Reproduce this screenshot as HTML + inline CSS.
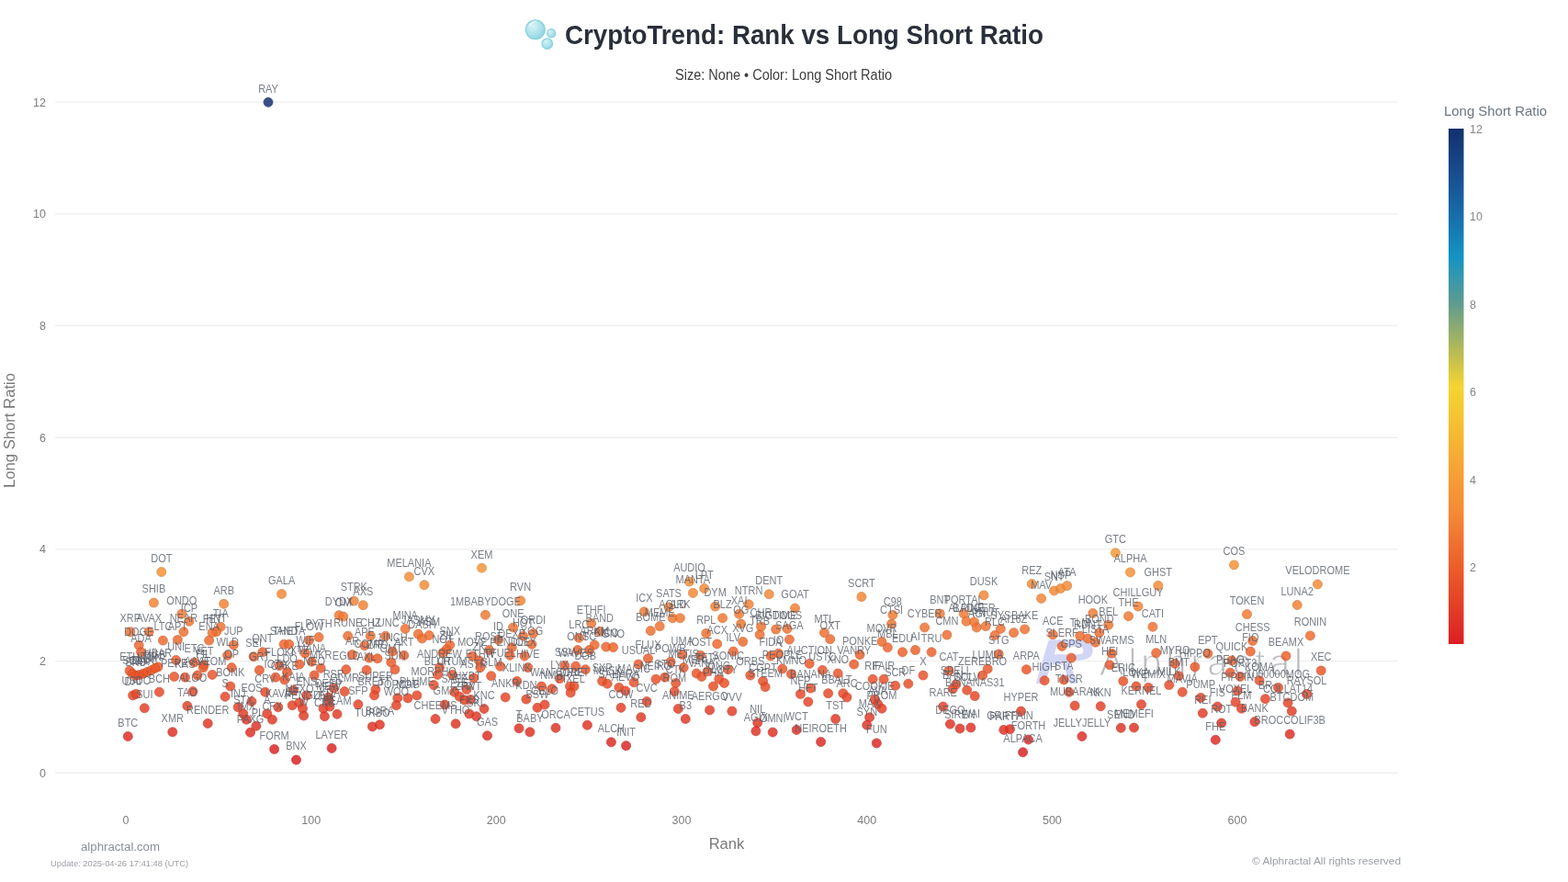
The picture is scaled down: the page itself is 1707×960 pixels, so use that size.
<!DOCTYPE html>
<html lang="en"><head><meta charset="utf-8"><title>CryptoTrend: Rank vs Long Short Ratio</title>
<style>
html,body{margin:0;padding:0;background:#fff;}
body{width:1707px;height:960px;overflow:hidden;font-family:"Liberation Sans",sans-serif;}
svg{display:block;}
text{font-family:"Liberation Sans",sans-serif;}
.grid line{stroke:#efefef;stroke-width:1.4;}
.tick{font-size:12.5px;fill:#7d7d7d;}
.axt{font-size:16.6px;fill:#7a7a7a;}
.lab{font-size:12.2px;fill:#565c68;fill-opacity:.8;text-anchor:middle;}
.pt{opacity:.84;stroke-width:.8;}
.ttl{font-size:29.3px;font-weight:700;fill:#2a2f3a;}
.sub{font-size:15.6px;fill:#3e3e3e;}
.cbt{font-size:14.5px;fill:#6a7686;}
.cbl{font-size:12.5px;fill:#858585;}
.foot1{font-size:12.5px;fill:#8a8f96;}
.foot2{font-size:9.5px;fill:#9a9ea4;}
.foot3{font-size:11px;fill:#9a9ea4;}
.wm{font-size:40px;fill:#b9bcc0;}
</style></head><body>
<svg width="1707" height="960" viewBox="0 0 1707 960">
<defs><linearGradient id="cb" x1="0" y1="1" x2="0" y2="0">
<stop offset="0.00%" stop-color="rgb(219, 30, 34)"/>
<stop offset="6.22%" stop-color="rgb(226, 58, 38)"/>
<stop offset="14.75%" stop-color="rgb(236, 92, 42)"/>
<stop offset="24.98%" stop-color="rgb(244, 136, 54)"/>
<stop offset="31.80%" stop-color="rgb(246, 156, 54)"/>
<stop offset="40.32%" stop-color="rgb(246, 184, 50)"/>
<stop offset="49.96%" stop-color="rgb(244, 213, 48)"/>
<stop offset="57.37%" stop-color="rgb(178, 184, 88)"/>
<stop offset="65.90%" stop-color="rgb(96, 156, 142)"/>
<stop offset="75.02%" stop-color="rgb(21, 147, 196)"/>
<stop offset="82.95%" stop-color="rgb(23, 110, 170)"/>
<stop offset="91.47%" stop-color="rgb(24, 76, 142)"/>
<stop offset="100.00%" stop-color="rgb(19, 48, 110)"/>
</linearGradient>
<radialGradient id="bub" cx="35%" cy="30%" r="75%"><stop offset="0" stop-color="#d8f3f7"/><stop offset="1" stop-color="#8fd6e2"/></radialGradient>
</defs>
<rect width="1707" height="960" fill="#fff"/>
<g class="grid">
<line x1="60" x2="1522" y1="841.3" y2="841.3"/>
<line x1="60" x2="1522" y1="719.6" y2="719.6"/>
<line x1="60" x2="1522" y1="597.9" y2="597.9"/>
<line x1="60" x2="1522" y1="476.2" y2="476.2"/>
<line x1="60" x2="1522" y1="354.5" y2="354.5"/>
<line x1="60" x2="1522" y1="232.8" y2="232.8"/>
<line x1="60" x2="1522" y1="111.1" y2="111.1"/>
</g>
<g class="tick" text-anchor="end">
<text x="50" y="845.8">0</text>
<text x="50" y="724.1">2</text>
<text x="50" y="602.4">4</text>
<text x="50" y="480.7">6</text>
<text x="50" y="359.0">8</text>
<text x="50" y="237.3">10</text>
<text x="50" y="115.6">12</text>
</g>
<g class="tick" text-anchor="middle">
<text x="137.0" y="897">0</text>
<text x="338.7" y="897">100</text>
<text x="540.3" y="897">200</text>
<text x="742.0" y="897">300</text>
<text x="943.7" y="897">400</text>
<text x="1145.4" y="897">500</text>
<text x="1347.0" y="897">600</text>
</g>
<text class="axt" text-anchor="middle" x="791" y="924">Rank</text>
<text class="axt" text-anchor="middle" transform="translate(16,468.5) rotate(-90)" textLength="125" lengthAdjust="spacingAndGlyphs">Long Short Ratio</text>
<g id="icon"><circle cx="582.8" cy="32.3" r="10.4" fill="url(#bub)" stroke="#86d0dc" stroke-width="1.3"/><circle cx="600.2" cy="36.2" r="4.6" fill="url(#bub)" stroke="#86d0dc" stroke-width="1.1"/><circle cx="595.8" cy="47.6" r="5.8" fill="url(#bub)" stroke="#86d0dc" stroke-width="1.1"/><path d="M576.5 28 q2.5 -4.5 7 -4.8" fill="none" stroke="#e9fafc" stroke-width="1.4" stroke-linecap="round"/></g>
<text class="ttl" x="615" y="47.6" textLength="521" lengthAdjust="spacingAndGlyphs">CryptoTrend: Rank vs Long Short Ratio</text>
<text class="sub" x="735" y="87" textLength="236" lengthAdjust="spacingAndGlyphs">Size: None • Color: Long Short Ratio</text>
<text class="cbt" x="1572" y="125.5" textLength="112" lengthAdjust="spacingAndGlyphs">Long Short Ratio</text>
<rect x="1577" y="140" width="16.5" height="561" fill="url(#cb)"/>
<g class="cbl">
<text x="1600" y="622.0">2</text>
<text x="1600" y="526.5">4</text>
<text x="1600" y="431.0">6</text>
<text x="1600" y="335.5">8</text>
<text x="1600" y="240.0">10</text>
<text x="1600" y="144.5">12</text>
</g>
<g id="wm"><path d="M1127.8 744 L1141 698.5 Q1141.6 696.2 1144 696.2 L1175.6 696.2 Q1189.7 697 1189.7 707.5 Q1189.7 718 1175.6 718.7 L1162.5 718.7 L1173.7 744 L1165.3 744 L1156.9 723.5 L1144.5 723.5 L1137.2 744 Z M1150.3 703.7 L1174.7 703.7 Q1179.4 704 1179.4 708 Q1179.4 712 1174.7 712.2 L1147.9 712.2 Z" fill="#cdd1f4" fill-opacity=".9" fill-rule="evenodd"/><text class="wm" x="1197" y="734.5" textLength="221" lengthAdjust="spacing" stroke="#fff" stroke-width="1.1">Alphractal</text></g>
<g id="pts">
<circle class="pt" cx="292.0" cy="111.3" r="5" fill="rgb(19, 48, 110)" stroke="rgb(16, 41, 95)"/>
<circle class="pt" cx="175.8" cy="622.5" r="5" fill="rgb(245, 146, 54)" stroke="rgb(211, 126, 46)"/>
<circle class="pt" cx="167.4" cy="656.1" r="5" fill="rgb(243, 130, 52)" stroke="rgb(209, 112, 45)"/>
<circle class="pt" cx="243.7" cy="657.3" r="5" fill="rgb(243, 130, 52)" stroke="rgb(209, 112, 45)"/>
<circle class="pt" cx="306.6" cy="646.5" r="5" fill="rgb(244, 136, 54)" stroke="rgb(210, 117, 46)"/>
<circle class="pt" cx="197.8" cy="668.3" r="5" fill="rgb(242, 123, 50)" stroke="rgb(208, 106, 43)"/>
<circle class="pt" cx="206.0" cy="676.3" r="5" fill="rgb(241, 118, 49)" stroke="rgb(207, 101, 42)"/>
<circle class="pt" cx="240.2" cy="682.3" r="5" fill="rgb(240, 114, 48)" stroke="rgb(206, 98, 41)"/>
<circle class="pt" cx="141.8" cy="687.7" r="5" fill="rgb(239, 111, 47)" stroke="rgb(206, 95, 40)"/>
<circle class="pt" cx="162.2" cy="687.7" r="5" fill="rgb(239, 111, 47)" stroke="rgb(206, 95, 40)"/>
<circle class="pt" cx="199.9" cy="687.7" r="5" fill="rgb(239, 111, 47)" stroke="rgb(206, 95, 40)"/>
<circle class="pt" cx="235.6" cy="687.7" r="5" fill="rgb(239, 111, 47)" stroke="rgb(206, 95, 40)"/>
<circle class="pt" cx="231.1" cy="688.7" r="5" fill="rgb(239, 111, 47)" stroke="rgb(206, 95, 40)"/>
<circle class="pt" cx="227.6" cy="697.1" r="5" fill="rgb(238, 106, 46)" stroke="rgb(205, 91, 40)"/>
<circle class="pt" cx="177.4" cy="697.1" r="5" fill="rgb(238, 106, 46)" stroke="rgb(205, 91, 40)"/>
<circle class="pt" cx="193.4" cy="696.4" r="5" fill="rgb(239, 106, 46)" stroke="rgb(206, 91, 40)"/>
<circle class="pt" cx="151.2" cy="702.3" r="5" fill="rgb(238, 102, 45)" stroke="rgb(205, 88, 39)"/>
<circle class="pt" cx="254.3" cy="702.0" r="5" fill="rgb(238, 103, 45)" stroke="rgb(205, 89, 39)"/>
<circle class="pt" cx="309.1" cy="701.3" r="5" fill="rgb(238, 103, 45)" stroke="rgb(205, 89, 39)"/>
<circle class="pt" cx="314.7" cy="701.3" r="5" fill="rgb(238, 103, 45)" stroke="rgb(205, 89, 39)"/>
<circle class="pt" cx="347.1" cy="693.6" r="5" fill="rgb(239, 108, 46)" stroke="rgb(206, 93, 40)"/>
<circle class="pt" cx="336.5" cy="697.1" r="5" fill="rgb(238, 106, 46)" stroke="rgb(205, 91, 40)"/>
<circle class="pt" cx="153.5" cy="709.8" r="5" fill="rgb(237, 98, 44)" stroke="rgb(204, 84, 38)"/>
<circle class="pt" cx="247.7" cy="713.3" r="5" fill="rgb(237, 96, 43)" stroke="rgb(204, 83, 37)"/>
<circle class="pt" cx="285.9" cy="709.8" r="5" fill="rgb(237, 98, 44)" stroke="rgb(204, 84, 38)"/>
<circle class="pt" cx="276.1" cy="714.7" r="5" fill="rgb(237, 95, 43)" stroke="rgb(204, 82, 37)"/>
<circle class="pt" cx="332.3" cy="711.2" r="5" fill="rgb(237, 97, 43)" stroke="rgb(204, 83, 37)"/>
<circle class="pt" cx="191.7" cy="718.5" r="5" fill="rgb(236, 93, 42)" stroke="rgb(203, 80, 36)"/>
<circle class="pt" cx="211.4" cy="721.0" r="5" fill="rgb(236, 91, 42)" stroke="rgb(203, 78, 36)"/>
<circle class="pt" cx="221.9" cy="723.8" r="5" fill="rgb(235, 90, 42)" stroke="rgb(202, 77, 36)"/>
<circle class="pt" cx="172.0" cy="725.9" r="5" fill="rgb(235, 88, 42)" stroke="rgb(202, 76, 36)"/>
<circle class="pt" cx="252.2" cy="726.6" r="5" fill="rgb(235, 88, 42)" stroke="rgb(202, 76, 36)"/>
<circle class="pt" cx="141.1" cy="730.1" r="5" fill="rgb(234, 86, 41)" stroke="rgb(201, 74, 35)"/>
<circle class="pt" cx="144.2" cy="733.2" r="5" fill="rgb(234, 84, 41)" stroke="rgb(201, 72, 35)"/>
<circle class="pt" cx="147.8" cy="735.5" r="5" fill="rgb(233, 83, 41)" stroke="rgb(200, 71, 35)"/>
<circle class="pt" cx="151.6" cy="734.6" r="5" fill="rgb(234, 84, 41)" stroke="rgb(201, 72, 35)"/>
<circle class="pt" cx="155.9" cy="733.2" r="5" fill="rgb(234, 84, 41)" stroke="rgb(201, 72, 35)"/>
<circle class="pt" cx="160.1" cy="731.5" r="5" fill="rgb(234, 85, 41)" stroke="rgb(201, 73, 35)"/>
<circle class="pt" cx="164.7" cy="729.6" r="5" fill="rgb(234, 86, 41)" stroke="rgb(201, 74, 35)"/>
<circle class="pt" cx="168.9" cy="727.3" r="5" fill="rgb(235, 88, 41)" stroke="rgb(202, 76, 35)"/>
<circle class="pt" cx="282.4" cy="729.4" r="5" fill="rgb(234, 87, 41)" stroke="rgb(201, 75, 35)"/>
<circle class="pt" cx="304.2" cy="724.5" r="5" fill="rgb(235, 89, 42)" stroke="rgb(202, 77, 36)"/>
<circle class="pt" cx="312.6" cy="731.5" r="5" fill="rgb(234, 85, 41)" stroke="rgb(201, 73, 35)"/>
<circle class="pt" cx="339.3" cy="720.3" r="5" fill="rgb(236, 92, 42)" stroke="rgb(203, 79, 36)"/>
<circle class="pt" cx="300.0" cy="737.2" r="5" fill="rgb(233, 82, 41)" stroke="rgb(200, 71, 35)"/>
<circle class="pt" cx="326.0" cy="723.1" r="5" fill="rgb(235, 90, 42)" stroke="rgb(202, 77, 36)"/>
<circle class="pt" cx="349.2" cy="727.3" r="5" fill="rgb(235, 88, 41)" stroke="rgb(202, 76, 35)"/>
<circle class="pt" cx="342.1" cy="735.1" r="5" fill="rgb(233, 83, 41)" stroke="rgb(200, 71, 35)"/>
<circle class="pt" cx="189.6" cy="736.5" r="5" fill="rgb(233, 83, 41)" stroke="rgb(200, 71, 35)"/>
<circle class="pt" cx="201.5" cy="737.2" r="5" fill="rgb(233, 82, 41)" stroke="rgb(200, 71, 35)"/>
<circle class="pt" cx="214.9" cy="735.1" r="5" fill="rgb(233, 83, 41)" stroke="rgb(200, 71, 35)"/>
<circle class="pt" cx="231.1" cy="734.4" r="5" fill="rgb(234, 84, 41)" stroke="rgb(201, 72, 35)"/>
<circle class="pt" cx="221.2" cy="726.6" r="5" fill="rgb(235, 88, 42)" stroke="rgb(202, 76, 36)"/>
<circle class="pt" cx="309.8" cy="740.0" r="5" fill="rgb(233, 81, 41)" stroke="rgb(200, 70, 35)"/>
<circle class="pt" cx="250.8" cy="747.0" r="5" fill="rgb(231, 77, 40)" stroke="rgb(199, 66, 34)"/>
<circle class="pt" cx="173.4" cy="753.3" r="5" fill="rgb(230, 73, 40)" stroke="rgb(198, 63, 34)"/>
<circle class="pt" cx="144.6" cy="756.9" r="5" fill="rgb(230, 71, 40)" stroke="rgb(198, 61, 34)"/>
<circle class="pt" cx="148.1" cy="755.4" r="5" fill="rgb(230, 72, 40)" stroke="rgb(198, 62, 34)"/>
<circle class="pt" cx="210.0" cy="752.6" r="5" fill="rgb(231, 74, 40)" stroke="rgb(199, 64, 34)"/>
<circle class="pt" cx="288.7" cy="753.3" r="5" fill="rgb(230, 73, 40)" stroke="rgb(198, 63, 34)"/>
<circle class="pt" cx="319.6" cy="751.2" r="5" fill="rgb(231, 74, 40)" stroke="rgb(199, 64, 34)"/>
<circle class="pt" cx="333.7" cy="756.9" r="5" fill="rgb(230, 71, 40)" stroke="rgb(198, 61, 34)"/>
<circle class="pt" cx="245.1" cy="758.3" r="5" fill="rgb(230, 70, 39)" stroke="rgb(198, 60, 34)"/>
<circle class="pt" cx="139.3" cy="801.5" r="5" fill="rgb(223, 45, 36)" stroke="rgb(192, 39, 31)"/>
<circle class="pt" cx="187.8" cy="796.8" r="5" fill="rgb(223, 48, 37)" stroke="rgb(192, 41, 32)"/>
<circle class="pt" cx="157.3" cy="770.8" r="5" fill="rgb(228, 63, 39)" stroke="rgb(196, 54, 34)"/>
<circle class="pt" cx="203.9" cy="768.4" r="5" fill="rgb(228, 65, 39)" stroke="rgb(196, 56, 34)"/>
<circle class="pt" cx="226.2" cy="787.4" r="5" fill="rgb(225, 54, 37)" stroke="rgb(194, 46, 32)"/>
<circle class="pt" cx="298.6" cy="815.5" r="5" fill="rgb(220, 36, 35)" stroke="rgb(189, 31, 30)"/>
<circle class="pt" cx="322.5" cy="827.1" r="5" fill="rgb(219, 30, 34)" stroke="rgb(188, 26, 29)"/>
<circle class="pt" cx="272.5" cy="797.2" r="5" fill="rgb(223, 47, 36)" stroke="rgb(192, 40, 31)"/>
<circle class="pt" cx="278.9" cy="790.2" r="5" fill="rgb(224, 52, 37)" stroke="rgb(193, 45, 32)"/>
<circle class="pt" cx="268.3" cy="783.2" r="5" fill="rgb(226, 56, 38)" stroke="rgb(194, 48, 33)"/>
<circle class="pt" cx="264.8" cy="776.9" r="5" fill="rgb(227, 60, 38)" stroke="rgb(195, 52, 33)"/>
<circle class="pt" cx="259.2" cy="769.8" r="5" fill="rgb(228, 64, 39)" stroke="rgb(196, 55, 34)"/>
<circle class="pt" cx="274.0" cy="763.5" r="5" fill="rgb(229, 67, 39)" stroke="rgb(197, 58, 34)"/>
<circle class="pt" cx="296.4" cy="783.2" r="5" fill="rgb(226, 56, 38)" stroke="rgb(194, 48, 33)"/>
<circle class="pt" cx="290.8" cy="776.9" r="5" fill="rgb(227, 60, 38)" stroke="rgb(195, 52, 33)"/>
<circle class="pt" cx="302.8" cy="769.8" r="5" fill="rgb(228, 64, 39)" stroke="rgb(196, 55, 34)"/>
<circle class="pt" cx="318.2" cy="767.7" r="5" fill="rgb(228, 65, 39)" stroke="rgb(196, 56, 34)"/>
<circle class="pt" cx="326.0" cy="764.9" r="5" fill="rgb(229, 67, 39)" stroke="rgb(197, 58, 34)"/>
<circle class="pt" cx="329.5" cy="771.2" r="5" fill="rgb(228, 63, 39)" stroke="rgb(196, 54, 34)"/>
<circle class="pt" cx="330.6" cy="779.0" r="5" fill="rgb(226, 59, 38)" stroke="rgb(194, 51, 33)"/>
<circle class="pt" cx="524.5" cy="618.2" r="5" fill="rgb(245, 148, 54)" stroke="rgb(211, 127, 46)"/>
<circle class="pt" cx="445.4" cy="627.8" r="5" fill="rgb(245, 144, 54)" stroke="rgb(211, 124, 46)"/>
<circle class="pt" cx="461.9" cy="636.7" r="5" fill="rgb(244, 140, 54)" stroke="rgb(210, 120, 46)"/>
<circle class="pt" cx="385.3" cy="654.1" r="5" fill="rgb(243, 131, 53)" stroke="rgb(209, 113, 46)"/>
<circle class="pt" cx="395.3" cy="658.7" r="5" fill="rgb(243, 129, 52)" stroke="rgb(209, 111, 45)"/>
<circle class="pt" cx="566.6" cy="653.8" r="5" fill="rgb(243, 132, 53)" stroke="rgb(209, 114, 46)"/>
<circle class="pt" cx="369.1" cy="669.7" r="5" fill="rgb(241, 122, 50)" stroke="rgb(207, 105, 43)"/>
<circle class="pt" cx="373.7" cy="671.1" r="5" fill="rgb(241, 121, 50)" stroke="rgb(207, 104, 43)"/>
<circle class="pt" cx="528.4" cy="669.3" r="5" fill="rgb(242, 122, 50)" stroke="rgb(208, 105, 43)"/>
<circle class="pt" cx="441.2" cy="684.4" r="5" fill="rgb(240, 113, 48)" stroke="rgb(206, 97, 41)"/>
<circle class="pt" cx="558.6" cy="683.0" r="5" fill="rgb(240, 114, 48)" stroke="rgb(206, 98, 41)"/>
<circle class="pt" cx="378.7" cy="692.2" r="5" fill="rgb(239, 109, 47)" stroke="rgb(206, 94, 40)"/>
<circle class="pt" cx="403.3" cy="692.2" r="5" fill="rgb(239, 109, 47)" stroke="rgb(206, 94, 40)"/>
<circle class="pt" cx="419.7" cy="692.2" r="5" fill="rgb(239, 109, 47)" stroke="rgb(206, 94, 40)"/>
<circle class="pt" cx="455.3" cy="690.1" r="5" fill="rgb(239, 110, 47)" stroke="rgb(206, 95, 40)"/>
<circle class="pt" cx="467.2" cy="691.5" r="5" fill="rgb(239, 109, 47)" stroke="rgb(206, 94, 40)"/>
<circle class="pt" cx="459.5" cy="695.0" r="5" fill="rgb(239, 107, 46)" stroke="rgb(206, 92, 40)"/>
<circle class="pt" cx="396.9" cy="702.7" r="5" fill="rgb(238, 102, 45)" stroke="rgb(205, 88, 39)"/>
<circle class="pt" cx="489.7" cy="702.0" r="5" fill="rgb(238, 103, 45)" stroke="rgb(205, 89, 39)"/>
<circle class="pt" cx="486.2" cy="706.9" r="5" fill="rgb(237, 100, 44)" stroke="rgb(204, 86, 38)"/>
<circle class="pt" cx="482.0" cy="710.5" r="5" fill="rgb(237, 98, 44)" stroke="rgb(204, 84, 38)"/>
<circle class="pt" cx="542.5" cy="696.4" r="5" fill="rgb(239, 106, 46)" stroke="rgb(206, 91, 40)"/>
<circle class="pt" cx="569.5" cy="692.2" r="5" fill="rgb(239, 109, 47)" stroke="rgb(206, 94, 40)"/>
<circle class="pt" cx="557.2" cy="704.8" r="5" fill="rgb(238, 101, 44)" stroke="rgb(205, 87, 38)"/>
<circle class="pt" cx="532.6" cy="707.6" r="5" fill="rgb(237, 99, 44)" stroke="rgb(204, 85, 38)"/>
<circle class="pt" cx="383.6" cy="712.6" r="5" fill="rgb(237, 96, 43)" stroke="rgb(204, 83, 37)"/>
<circle class="pt" cx="401.9" cy="716.1" r="5" fill="rgb(236, 94, 43)" stroke="rgb(203, 81, 37)"/>
<circle class="pt" cx="411.0" cy="716.8" r="5" fill="rgb(236, 94, 42)" stroke="rgb(203, 81, 36)"/>
<circle class="pt" cx="427.2" cy="709.1" r="5" fill="rgb(237, 98, 44)" stroke="rgb(204, 84, 38)"/>
<circle class="pt" cx="439.8" cy="713.3" r="5" fill="rgb(237, 96, 43)" stroke="rgb(204, 83, 37)"/>
<circle class="pt" cx="425.8" cy="721.0" r="5" fill="rgb(236, 91, 42)" stroke="rgb(203, 78, 36)"/>
<circle class="pt" cx="430.0" cy="728.7" r="5" fill="rgb(234, 87, 41)" stroke="rgb(201, 75, 35)"/>
<circle class="pt" cx="376.8" cy="728.7" r="5" fill="rgb(234, 87, 41)" stroke="rgb(201, 75, 35)"/>
<circle class="pt" cx="399.1" cy="729.4" r="5" fill="rgb(234, 87, 41)" stroke="rgb(201, 75, 35)"/>
<circle class="pt" cx="514.3" cy="714.0" r="5" fill="rgb(237, 95, 43)" stroke="rgb(204, 82, 37)"/>
<circle class="pt" cx="521.4" cy="718.9" r="5" fill="rgb(236, 92, 42)" stroke="rgb(203, 79, 36)"/>
<circle class="pt" cx="522.8" cy="726.6" r="5" fill="rgb(235, 88, 42)" stroke="rgb(202, 76, 36)"/>
<circle class="pt" cx="555.1" cy="713.3" r="5" fill="rgb(237, 96, 43)" stroke="rgb(204, 83, 37)"/>
<circle class="pt" cx="544.6" cy="725.2" r="5" fill="rgb(235, 89, 42)" stroke="rgb(202, 77, 36)"/>
<circle class="pt" cx="478.5" cy="726.6" r="5" fill="rgb(235, 88, 42)" stroke="rgb(202, 76, 36)"/>
<circle class="pt" cx="476.4" cy="734.4" r="5" fill="rgb(234, 84, 41)" stroke="rgb(201, 72, 35)"/>
<circle class="pt" cx="492.5" cy="734.4" r="5" fill="rgb(234, 84, 41)" stroke="rgb(201, 72, 35)"/>
<circle class="pt" cx="515.7" cy="737.9" r="5" fill="rgb(233, 82, 41)" stroke="rgb(200, 71, 35)"/>
<circle class="pt" cx="534.7" cy="735.8" r="5" fill="rgb(233, 83, 41)" stroke="rgb(200, 71, 35)"/>
<circle class="pt" cx="562.8" cy="741.4" r="5" fill="rgb(232, 80, 41)" stroke="rgb(200, 69, 35)"/>
<circle class="pt" cx="472.2" cy="745.6" r="5" fill="rgb(232, 77, 40)" stroke="rgb(200, 66, 34)"/>
<circle class="pt" cx="508.0" cy="750.5" r="5" fill="rgb(231, 75, 40)" stroke="rgb(199, 64, 34)"/>
<circle class="pt" cx="494.7" cy="753.3" r="5" fill="rgb(230, 73, 40)" stroke="rgb(198, 63, 34)"/>
<circle class="pt" cx="500.3" cy="758.3" r="5" fill="rgb(230, 70, 39)" stroke="rgb(198, 60, 34)"/>
<circle class="pt" cx="408.9" cy="750.5" r="5" fill="rgb(231, 75, 40)" stroke="rgb(199, 64, 34)"/>
<circle class="pt" cx="407.5" cy="756.9" r="5" fill="rgb(230, 71, 40)" stroke="rgb(198, 61, 34)"/>
<circle class="pt" cx="363.2" cy="749.1" r="5" fill="rgb(231, 76, 40)" stroke="rgb(199, 65, 34)"/>
<circle class="pt" cx="375.1" cy="752.6" r="5" fill="rgb(231, 74, 40)" stroke="rgb(199, 64, 34)"/>
<circle class="pt" cx="453.9" cy="756.9" r="5" fill="rgb(230, 71, 40)" stroke="rgb(198, 61, 34)"/>
<circle class="pt" cx="444.0" cy="759.9" r="5" fill="rgb(229, 69, 39)" stroke="rgb(197, 59, 34)"/>
<circle class="pt" cx="432.8" cy="759.7" r="5" fill="rgb(229, 70, 39)" stroke="rgb(197, 60, 34)"/>
<circle class="pt" cx="550.2" cy="759.0" r="5" fill="rgb(230, 70, 39)" stroke="rgb(198, 60, 34)"/>
<circle class="pt" cx="357.6" cy="759.0" r="5" fill="rgb(230, 70, 39)" stroke="rgb(198, 60, 34)"/>
<circle class="pt" cx="361.1" cy="814.4" r="5" fill="rgb(221, 37, 35)" stroke="rgb(190, 32, 30)"/>
<circle class="pt" cx="389.9" cy="766.7" r="5" fill="rgb(228, 66, 39)" stroke="rgb(196, 57, 34)"/>
<circle class="pt" cx="352.0" cy="771.2" r="5" fill="rgb(228, 63, 39)" stroke="rgb(196, 54, 34)"/>
<circle class="pt" cx="353.4" cy="779.7" r="5" fill="rgb(226, 58, 38)" stroke="rgb(194, 50, 33)"/>
<circle class="pt" cx="367.0" cy="777.3" r="5" fill="rgb(227, 60, 38)" stroke="rgb(195, 52, 33)"/>
<circle class="pt" cx="359.0" cy="769.1" r="5" fill="rgb(228, 64, 39)" stroke="rgb(196, 55, 34)"/>
<circle class="pt" cx="357.6" cy="762.1" r="5" fill="rgb(229, 68, 39)" stroke="rgb(197, 58, 34)"/>
<circle class="pt" cx="405.4" cy="790.9" r="5" fill="rgb(224, 51, 37)" stroke="rgb(193, 44, 32)"/>
<circle class="pt" cx="413.4" cy="788.8" r="5" fill="rgb(225, 53, 37)" stroke="rgb(194, 46, 32)"/>
<circle class="pt" cx="431.4" cy="767.7" r="5" fill="rgb(228, 65, 39)" stroke="rgb(196, 56, 34)"/>
<circle class="pt" cx="474.0" cy="782.5" r="5" fill="rgb(226, 57, 38)" stroke="rgb(194, 49, 33)"/>
<circle class="pt" cx="496.1" cy="787.8" r="5" fill="rgb(225, 53, 37)" stroke="rgb(194, 46, 32)"/>
<circle class="pt" cx="484.1" cy="767.0" r="5" fill="rgb(228, 66, 39)" stroke="rgb(196, 57, 34)"/>
<circle class="pt" cx="510.8" cy="776.9" r="5" fill="rgb(227, 60, 38)" stroke="rgb(195, 52, 33)"/>
<circle class="pt" cx="518.6" cy="779.7" r="5" fill="rgb(226, 58, 38)" stroke="rgb(194, 50, 33)"/>
<circle class="pt" cx="527.0" cy="771.5" r="5" fill="rgb(227, 63, 39)" stroke="rgb(195, 54, 34)"/>
<circle class="pt" cx="530.5" cy="800.8" r="5" fill="rgb(223, 45, 36)" stroke="rgb(192, 39, 31)"/>
<circle class="pt" cx="505.9" cy="762.1" r="5" fill="rgb(229, 68, 39)" stroke="rgb(197, 58, 34)"/>
<circle class="pt" cx="512.2" cy="761.4" r="5" fill="rgb(229, 69, 39)" stroke="rgb(197, 59, 34)"/>
<circle class="pt" cx="565.0" cy="792.8" r="5" fill="rgb(224, 50, 37)" stroke="rgb(193, 43, 32)"/>
<circle class="pt" cx="750.5" cy="633.1" r="5" fill="rgb(245, 142, 54)" stroke="rgb(211, 122, 46)"/>
<circle class="pt" cx="766.7" cy="640.5" r="5" fill="rgb(244, 139, 54)" stroke="rgb(210, 120, 46)"/>
<circle class="pt" cx="754.4" cy="645.4" r="5" fill="rgb(244, 136, 54)" stroke="rgb(210, 117, 46)"/>
<circle class="pt" cx="778.6" cy="660.1" r="5" fill="rgb(243, 128, 52)" stroke="rgb(209, 110, 45)"/>
<circle class="pt" cx="786.6" cy="672.8" r="5" fill="rgb(241, 120, 50)" stroke="rgb(207, 103, 43)"/>
<circle class="pt" cx="701.3" cy="665.8" r="5" fill="rgb(242, 124, 51)" stroke="rgb(208, 107, 44)"/>
<circle class="pt" cx="728.0" cy="660.8" r="5" fill="rgb(242, 127, 52)" stroke="rgb(208, 109, 45)"/>
<circle class="pt" cx="732.2" cy="672.8" r="5" fill="rgb(241, 120, 50)" stroke="rgb(207, 103, 43)"/>
<circle class="pt" cx="740.4" cy="672.8" r="5" fill="rgb(241, 120, 50)" stroke="rgb(207, 103, 43)"/>
<circle class="pt" cx="643.7" cy="678.4" r="5" fill="rgb(241, 117, 49)" stroke="rgb(207, 101, 42)"/>
<circle class="pt" cx="580.4" cy="689.4" r="5" fill="rgb(239, 110, 47)" stroke="rgb(206, 95, 40)"/>
<circle class="pt" cx="579.0" cy="701.3" r="5" fill="rgb(238, 103, 45)" stroke="rgb(205, 89, 39)"/>
<circle class="pt" cx="571.0" cy="714.0" r="5" fill="rgb(237, 95, 43)" stroke="rgb(204, 82, 37)"/>
<circle class="pt" cx="574.8" cy="726.6" r="5" fill="rgb(235, 88, 42)" stroke="rgb(202, 76, 36)"/>
<circle class="pt" cx="652.8" cy="687.3" r="5" fill="rgb(240, 111, 47)" stroke="rgb(206, 95, 40)"/>
<circle class="pt" cx="630.3" cy="694.3" r="5" fill="rgb(239, 107, 46)" stroke="rgb(206, 92, 40)"/>
<circle class="pt" cx="647.2" cy="702.0" r="5" fill="rgb(238, 103, 45)" stroke="rgb(205, 89, 39)"/>
<circle class="pt" cx="628.9" cy="707.6" r="5" fill="rgb(237, 99, 44)" stroke="rgb(204, 85, 38)"/>
<circle class="pt" cx="659.8" cy="704.1" r="5" fill="rgb(238, 101, 45)" stroke="rgb(205, 87, 39)"/>
<circle class="pt" cx="667.6" cy="704.6" r="5" fill="rgb(238, 101, 44)" stroke="rgb(205, 87, 38)"/>
<circle class="pt" cx="641.5" cy="707.6" r="5" fill="rgb(237, 99, 44)" stroke="rgb(204, 85, 38)"/>
<circle class="pt" cx="614.8" cy="724.5" r="5" fill="rgb(235, 89, 42)" stroke="rgb(202, 77, 36)"/>
<circle class="pt" cx="626.8" cy="725.2" r="5" fill="rgb(235, 89, 42)" stroke="rgb(202, 77, 36)"/>
<circle class="pt" cx="637.3" cy="728.7" r="5" fill="rgb(234, 87, 41)" stroke="rgb(201, 75, 35)"/>
<circle class="pt" cx="708.3" cy="686.6" r="5" fill="rgb(240, 112, 47)" stroke="rgb(206, 96, 40)"/>
<circle class="pt" cx="718.2" cy="681.6" r="5" fill="rgb(240, 115, 48)" stroke="rgb(206, 99, 41)"/>
<circle class="pt" cx="768.8" cy="689.4" r="5" fill="rgb(239, 110, 47)" stroke="rgb(206, 95, 40)"/>
<circle class="pt" cx="780.7" cy="700.9" r="5" fill="rgb(238, 103, 45)" stroke="rgb(205, 89, 39)"/>
<circle class="pt" cx="705.5" cy="716.8" r="5" fill="rgb(236, 94, 42)" stroke="rgb(203, 81, 36)"/>
<circle class="pt" cx="742.8" cy="712.6" r="5" fill="rgb(237, 96, 43)" stroke="rgb(204, 83, 37)"/>
<circle class="pt" cx="762.5" cy="713.3" r="5" fill="rgb(237, 96, 43)" stroke="rgb(204, 83, 37)"/>
<circle class="pt" cx="730.1" cy="720.3" r="5" fill="rgb(236, 92, 42)" stroke="rgb(203, 79, 36)"/>
<circle class="pt" cx="744.2" cy="726.6" r="5" fill="rgb(235, 88, 42)" stroke="rgb(202, 76, 36)"/>
<circle class="pt" cx="695.0" cy="723.1" r="5" fill="rgb(235, 90, 42)" stroke="rgb(202, 77, 36)"/>
<circle class="pt" cx="589.5" cy="747.0" r="5" fill="rgb(231, 77, 40)" stroke="rgb(199, 66, 34)"/>
<circle class="pt" cx="600.8" cy="749.8" r="5" fill="rgb(231, 75, 40)" stroke="rgb(199, 64, 34)"/>
<circle class="pt" cx="609.2" cy="738.6" r="5" fill="rgb(233, 81, 41)" stroke="rgb(200, 70, 35)"/>
<circle class="pt" cx="620.5" cy="747.0" r="5" fill="rgb(231, 77, 40)" stroke="rgb(199, 66, 34)"/>
<circle class="pt" cx="625.0" cy="747.0" r="5" fill="rgb(231, 77, 40)" stroke="rgb(199, 66, 34)"/>
<circle class="pt" cx="621.2" cy="754.0" r="5" fill="rgb(230, 73, 40)" stroke="rgb(198, 63, 34)"/>
<circle class="pt" cx="655.6" cy="741.4" r="5" fill="rgb(232, 80, 41)" stroke="rgb(200, 69, 35)"/>
<circle class="pt" cx="661.2" cy="744.2" r="5" fill="rgb(232, 78, 40)" stroke="rgb(200, 67, 34)"/>
<circle class="pt" cx="673.9" cy="748.4" r="5" fill="rgb(231, 76, 40)" stroke="rgb(199, 65, 34)"/>
<circle class="pt" cx="680.9" cy="751.9" r="5" fill="rgb(231, 74, 40)" stroke="rgb(199, 64, 34)"/>
<circle class="pt" cx="690.1" cy="742.8" r="5" fill="rgb(232, 79, 40)" stroke="rgb(200, 68, 34)"/>
<circle class="pt" cx="714.0" cy="739.3" r="5" fill="rgb(233, 81, 41)" stroke="rgb(200, 70, 35)"/>
<circle class="pt" cx="723.8" cy="737.2" r="5" fill="rgb(233, 82, 41)" stroke="rgb(200, 71, 35)"/>
<circle class="pt" cx="735.7" cy="743.5" r="5" fill="rgb(232, 79, 40)" stroke="rgb(200, 68, 34)"/>
<circle class="pt" cx="734.3" cy="752.6" r="5" fill="rgb(231, 74, 40)" stroke="rgb(199, 64, 34)"/>
<circle class="pt" cx="758.2" cy="733.0" r="5" fill="rgb(234, 85, 41)" stroke="rgb(201, 73, 35)"/>
<circle class="pt" cx="763.9" cy="736.5" r="5" fill="rgb(233, 83, 41)" stroke="rgb(200, 71, 35)"/>
<circle class="pt" cx="770.2" cy="730.8" r="5" fill="rgb(234, 86, 41)" stroke="rgb(201, 74, 35)"/>
<circle class="pt" cx="782.8" cy="739.3" r="5" fill="rgb(233, 81, 41)" stroke="rgb(200, 70, 35)"/>
<circle class="pt" cx="788.5" cy="743.5" r="5" fill="rgb(232, 79, 40)" stroke="rgb(200, 68, 34)"/>
<circle class="pt" cx="776.5" cy="747.0" r="5" fill="rgb(231, 77, 40)" stroke="rgb(199, 66, 34)"/>
<circle class="pt" cx="572.9" cy="761.1" r="5" fill="rgb(229, 69, 39)" stroke="rgb(197, 59, 34)"/>
<circle class="pt" cx="585.0" cy="770.3" r="5" fill="rgb(228, 64, 39)" stroke="rgb(196, 55, 34)"/>
<circle class="pt" cx="593.0" cy="767.0" r="5" fill="rgb(228, 66, 39)" stroke="rgb(196, 57, 34)"/>
<circle class="pt" cx="576.9" cy="796.8" r="5" fill="rgb(223, 48, 37)" stroke="rgb(192, 41, 32)"/>
<circle class="pt" cx="605.0" cy="792.3" r="5" fill="rgb(224, 51, 37)" stroke="rgb(193, 44, 32)"/>
<circle class="pt" cx="639.4" cy="789.2" r="5" fill="rgb(225, 52, 37)" stroke="rgb(194, 45, 32)"/>
<circle class="pt" cx="665.4" cy="807.8" r="5" fill="rgb(222, 41, 36)" stroke="rgb(191, 35, 31)"/>
<circle class="pt" cx="681.6" cy="811.7" r="5" fill="rgb(221, 38, 35)" stroke="rgb(190, 33, 30)"/>
<circle class="pt" cx="676.0" cy="770.3" r="5" fill="rgb(228, 64, 39)" stroke="rgb(196, 55, 34)"/>
<circle class="pt" cx="697.8" cy="780.7" r="5" fill="rgb(226, 58, 38)" stroke="rgb(194, 50, 33)"/>
<circle class="pt" cx="704.1" cy="763.5" r="5" fill="rgb(229, 67, 39)" stroke="rgb(197, 58, 34)"/>
<circle class="pt" cx="746.3" cy="782.5" r="5" fill="rgb(226, 57, 38)" stroke="rgb(194, 49, 33)"/>
<circle class="pt" cx="738.3" cy="771.5" r="5" fill="rgb(227, 63, 39)" stroke="rgb(195, 54, 34)"/>
<circle class="pt" cx="772.6" cy="772.9" r="5" fill="rgb(227, 62, 38)" stroke="rgb(195, 53, 33)"/>
<circle class="pt" cx="837.2" cy="646.8" r="5" fill="rgb(244, 136, 54)" stroke="rgb(210, 117, 46)"/>
<circle class="pt" cx="937.9" cy="649.6" r="5" fill="rgb(244, 134, 54)" stroke="rgb(210, 115, 46)"/>
<circle class="pt" cx="865.5" cy="662.0" r="5" fill="rgb(242, 127, 51)" stroke="rgb(208, 109, 44)"/>
<circle class="pt" cx="815.1" cy="657.8" r="5" fill="rgb(243, 129, 52)" stroke="rgb(209, 111, 45)"/>
<circle class="pt" cx="804.6" cy="668.3" r="5" fill="rgb(242, 123, 50)" stroke="rgb(208, 106, 43)"/>
<circle class="pt" cx="971.9" cy="669.3" r="5" fill="rgb(242, 122, 50)" stroke="rgb(208, 105, 43)"/>
<circle class="pt" cx="970.5" cy="679.1" r="5" fill="rgb(240, 116, 49)" stroke="rgb(206, 100, 42)"/>
<circle class="pt" cx="806.7" cy="679.1" r="5" fill="rgb(240, 116, 49)" stroke="rgb(206, 100, 42)"/>
<circle class="pt" cx="828.5" cy="682.1" r="5" fill="rgb(240, 115, 48)" stroke="rgb(206, 99, 41)"/>
<circle class="pt" cx="827.1" cy="690.8" r="5" fill="rgb(239, 109, 47)" stroke="rgb(206, 94, 40)"/>
<circle class="pt" cx="844.7" cy="685.1" r="5" fill="rgb(240, 113, 48)" stroke="rgb(206, 97, 41)"/>
<circle class="pt" cx="857.0" cy="684.4" r="5" fill="rgb(240, 113, 48)" stroke="rgb(206, 97, 41)"/>
<circle class="pt" cx="859.4" cy="696.1" r="5" fill="rgb(239, 106, 46)" stroke="rgb(206, 91, 40)"/>
<circle class="pt" cx="808.8" cy="698.5" r="5" fill="rgb(238, 105, 45)" stroke="rgb(205, 90, 39)"/>
<circle class="pt" cx="798.3" cy="709.1" r="5" fill="rgb(237, 98, 44)" stroke="rgb(204, 84, 38)"/>
<circle class="pt" cx="897.4" cy="688.7" r="5" fill="rgb(239, 111, 47)" stroke="rgb(206, 95, 40)"/>
<circle class="pt" cx="903.7" cy="695.7" r="5" fill="rgb(239, 106, 46)" stroke="rgb(206, 91, 40)"/>
<circle class="pt" cx="1006.6" cy="683.0" r="5" fill="rgb(240, 114, 48)" stroke="rgb(206, 98, 41)"/>
<circle class="pt" cx="960.0" cy="698.5" r="5" fill="rgb(238, 105, 45)" stroke="rgb(205, 90, 39)"/>
<circle class="pt" cx="966.3" cy="704.8" r="5" fill="rgb(238, 101, 44)" stroke="rgb(205, 87, 38)"/>
<circle class="pt" cx="982.5" cy="709.8" r="5" fill="rgb(237, 98, 44)" stroke="rgb(204, 84, 38)"/>
<circle class="pt" cx="996.5" cy="707.6" r="5" fill="rgb(237, 99, 44)" stroke="rgb(204, 85, 38)"/>
<circle class="pt" cx="936.1" cy="712.6" r="5" fill="rgb(237, 96, 43)" stroke="rgb(204, 83, 37)"/>
<circle class="pt" cx="929.7" cy="723.1" r="5" fill="rgb(235, 90, 42)" stroke="rgb(202, 77, 36)"/>
<circle class="pt" cx="881.2" cy="722.4" r="5" fill="rgb(236, 90, 42)" stroke="rgb(203, 77, 36)"/>
<circle class="pt" cx="839.1" cy="714.0" r="5" fill="rgb(237, 95, 43)" stroke="rgb(204, 82, 37)"/>
<circle class="pt" cx="847.5" cy="711.2" r="5" fill="rgb(237, 97, 43)" stroke="rgb(204, 83, 37)"/>
<circle class="pt" cx="851.7" cy="728.0" r="5" fill="rgb(235, 87, 41)" stroke="rgb(202, 75, 35)"/>
<circle class="pt" cx="861.5" cy="733.7" r="5" fill="rgb(234, 84, 41)" stroke="rgb(201, 72, 35)"/>
<circle class="pt" cx="895.3" cy="729.4" r="5" fill="rgb(234, 87, 41)" stroke="rgb(201, 75, 35)"/>
<circle class="pt" cx="912.2" cy="733.0" r="5" fill="rgb(234, 85, 41)" stroke="rgb(201, 73, 35)"/>
<circle class="pt" cx="816.8" cy="735.1" r="5" fill="rgb(233, 83, 41)" stroke="rgb(200, 71, 35)"/>
<circle class="pt" cx="830.6" cy="741.4" r="5" fill="rgb(232, 80, 41)" stroke="rgb(200, 69, 35)"/>
<circle class="pt" cx="833.1" cy="747.7" r="5" fill="rgb(231, 76, 40)" stroke="rgb(199, 65, 34)"/>
<circle class="pt" cx="792.7" cy="728.7" r="5" fill="rgb(234, 87, 41)" stroke="rgb(201, 75, 35)"/>
<circle class="pt" cx="950.1" cy="739.3" r="5" fill="rgb(233, 81, 41)" stroke="rgb(200, 70, 35)"/>
<circle class="pt" cx="962.1" cy="739.3" r="5" fill="rgb(233, 81, 41)" stroke="rgb(200, 70, 35)"/>
<circle class="pt" cx="974.7" cy="746.3" r="5" fill="rgb(232, 77, 40)" stroke="rgb(200, 66, 34)"/>
<circle class="pt" cx="988.8" cy="744.2" r="5" fill="rgb(232, 78, 40)" stroke="rgb(200, 67, 34)"/>
<circle class="pt" cx="1005.0" cy="735.1" r="5" fill="rgb(233, 83, 41)" stroke="rgb(200, 71, 35)"/>
<circle class="pt" cx="882.6" cy="749.1" r="5" fill="rgb(231, 76, 40)" stroke="rgb(199, 65, 34)"/>
<circle class="pt" cx="871.4" cy="755.4" r="5" fill="rgb(230, 72, 40)" stroke="rgb(198, 62, 34)"/>
<circle class="pt" cx="901.6" cy="754.7" r="5" fill="rgb(230, 72, 40)" stroke="rgb(198, 62, 34)"/>
<circle class="pt" cx="917.8" cy="754.7" r="5" fill="rgb(230, 72, 40)" stroke="rgb(198, 62, 34)"/>
<circle class="pt" cx="922.0" cy="759.0" r="5" fill="rgb(230, 70, 39)" stroke="rgb(198, 60, 34)"/>
<circle class="pt" cx="796.9" cy="774.1" r="5" fill="rgb(227, 62, 38)" stroke="rgb(195, 53, 33)"/>
<circle class="pt" cx="824.7" cy="786.7" r="5" fill="rgb(225, 54, 37)" stroke="rgb(194, 46, 32)"/>
<circle class="pt" cx="822.9" cy="795.8" r="5" fill="rgb(224, 48, 37)" stroke="rgb(193, 41, 32)"/>
<circle class="pt" cx="841.2" cy="797.0" r="5" fill="rgb(223, 48, 37)" stroke="rgb(192, 41, 32)"/>
<circle class="pt" cx="867.2" cy="794.4" r="5" fill="rgb(224, 49, 37)" stroke="rgb(193, 42, 32)"/>
<circle class="pt" cx="893.6" cy="807.5" r="5" fill="rgb(222, 41, 36)" stroke="rgb(191, 35, 31)"/>
<circle class="pt" cx="909.6" cy="782.5" r="5" fill="rgb(226, 57, 38)" stroke="rgb(194, 49, 33)"/>
<circle class="pt" cx="946.6" cy="780.8" r="5" fill="rgb(226, 58, 38)" stroke="rgb(194, 50, 33)"/>
<circle class="pt" cx="943.8" cy="789.2" r="5" fill="rgb(225, 52, 37)" stroke="rgb(194, 45, 32)"/>
<circle class="pt" cx="954.3" cy="808.9" r="5" fill="rgb(222, 40, 35)" stroke="rgb(191, 34, 30)"/>
<circle class="pt" cx="879.8" cy="763.9" r="5" fill="rgb(229, 67, 39)" stroke="rgb(197, 58, 34)"/>
<circle class="pt" cx="952.2" cy="761.4" r="5" fill="rgb(229, 69, 39)" stroke="rgb(197, 59, 34)"/>
<circle class="pt" cx="955.7" cy="766.3" r="5" fill="rgb(228, 66, 39)" stroke="rgb(196, 57, 34)"/>
<circle class="pt" cx="960.0" cy="771.2" r="5" fill="rgb(228, 63, 39)" stroke="rgb(196, 54, 34)"/>
<circle class="pt" cx="1214.4" cy="601.8" r="5" fill="rgb(246, 154, 54)" stroke="rgb(212, 132, 46)"/>
<circle class="pt" cx="1123.3" cy="635.5" r="5" fill="rgb(244, 141, 54)" stroke="rgb(210, 121, 46)"/>
<circle class="pt" cx="1133.6" cy="651.4" r="5" fill="rgb(243, 133, 53)" stroke="rgb(209, 114, 46)"/>
<circle class="pt" cx="1147.6" cy="643.0" r="5" fill="rgb(244, 137, 54)" stroke="rgb(210, 118, 46)"/>
<circle class="pt" cx="1154.7" cy="640.5" r="5" fill="rgb(244, 139, 54)" stroke="rgb(210, 120, 46)"/>
<circle class="pt" cx="1161.7" cy="637.6" r="5" fill="rgb(244, 140, 54)" stroke="rgb(210, 120, 46)"/>
<circle class="pt" cx="1071.0" cy="647.9" r="5" fill="rgb(244, 135, 54)" stroke="rgb(210, 116, 46)"/>
<circle class="pt" cx="1023.2" cy="667.9" r="5" fill="rgb(242, 123, 51)" stroke="rgb(208, 106, 44)"/>
<circle class="pt" cx="1049.2" cy="667.9" r="5" fill="rgb(242, 123, 51)" stroke="rgb(208, 106, 44)"/>
<circle class="pt" cx="1052.0" cy="676.3" r="5" fill="rgb(241, 118, 49)" stroke="rgb(207, 101, 42)"/>
<circle class="pt" cx="1060.5" cy="677.0" r="5" fill="rgb(241, 118, 49)" stroke="rgb(207, 101, 42)"/>
<circle class="pt" cx="1189.8" cy="667.5" r="5" fill="rgb(242, 123, 51)" stroke="rgb(208, 106, 44)"/>
<circle class="pt" cx="1228.5" cy="670.7" r="5" fill="rgb(241, 121, 50)" stroke="rgb(207, 104, 43)"/>
<circle class="pt" cx="1063.3" cy="683.0" r="5" fill="rgb(240, 114, 48)" stroke="rgb(206, 98, 41)"/>
<circle class="pt" cx="1073.1" cy="681.6" r="5" fill="rgb(240, 115, 48)" stroke="rgb(206, 99, 41)"/>
<circle class="pt" cx="1030.9" cy="691.1" r="5" fill="rgb(239, 109, 47)" stroke="rgb(206, 94, 40)"/>
<circle class="pt" cx="1014.1" cy="709.8" r="5" fill="rgb(237, 98, 44)" stroke="rgb(204, 84, 38)"/>
<circle class="pt" cx="1089.3" cy="684.4" r="5" fill="rgb(240, 113, 48)" stroke="rgb(206, 97, 41)"/>
<circle class="pt" cx="1083.0" cy="691.5" r="5" fill="rgb(239, 109, 47)" stroke="rgb(206, 94, 40)"/>
<circle class="pt" cx="1103.6" cy="688.7" r="5" fill="rgb(239, 111, 47)" stroke="rgb(206, 95, 40)"/>
<circle class="pt" cx="1115.6" cy="684.9" r="5" fill="rgb(240, 113, 48)" stroke="rgb(206, 97, 41)"/>
<circle class="pt" cx="1087.2" cy="711.9" r="5" fill="rgb(237, 97, 43)" stroke="rgb(204, 83, 37)"/>
<circle class="pt" cx="1146.2" cy="690.8" r="5" fill="rgb(239, 109, 47)" stroke="rgb(206, 94, 40)"/>
<circle class="pt" cx="1206.7" cy="680.2" r="5" fill="rgb(240, 116, 48)" stroke="rgb(206, 100, 41)"/>
<circle class="pt" cx="1175.7" cy="692.2" r="5" fill="rgb(239, 109, 47)" stroke="rgb(206, 94, 40)"/>
<circle class="pt" cx="1184.2" cy="695.0" r="5" fill="rgb(239, 107, 46)" stroke="rgb(206, 92, 40)"/>
<circle class="pt" cx="1192.6" cy="699.2" r="5" fill="rgb(238, 104, 45)" stroke="rgb(205, 89, 39)"/>
<circle class="pt" cx="1196.8" cy="688.7" r="5" fill="rgb(239, 111, 47)" stroke="rgb(206, 95, 40)"/>
<circle class="pt" cx="1156.1" cy="703.4" r="5" fill="rgb(238, 102, 45)" stroke="rgb(205, 88, 39)"/>
<circle class="pt" cx="1166.3" cy="716.1" r="5" fill="rgb(236, 94, 43)" stroke="rgb(203, 81, 37)"/>
<circle class="pt" cx="1210.2" cy="711.2" r="5" fill="rgb(237, 97, 43)" stroke="rgb(204, 83, 37)"/>
<circle class="pt" cx="1208.1" cy="723.8" r="5" fill="rgb(235, 90, 42)" stroke="rgb(202, 77, 36)"/>
<circle class="pt" cx="1117.4" cy="728.7" r="5" fill="rgb(234, 87, 41)" stroke="rgb(201, 75, 35)"/>
<circle class="pt" cx="1069.6" cy="735.1" r="5" fill="rgb(233, 83, 41)" stroke="rgb(200, 71, 35)"/>
<circle class="pt" cx="1075.2" cy="728.0" r="5" fill="rgb(235, 87, 41)" stroke="rgb(202, 75, 35)"/>
<circle class="pt" cx="1033.0" cy="730.1" r="5" fill="rgb(234, 86, 41)" stroke="rgb(201, 74, 35)"/>
<circle class="pt" cx="1137.1" cy="740.7" r="5" fill="rgb(233, 80, 41)" stroke="rgb(200, 69, 35)"/>
<circle class="pt" cx="1158.2" cy="740.0" r="5" fill="rgb(233, 81, 41)" stroke="rgb(200, 70, 35)"/>
<circle class="pt" cx="1163.8" cy="753.3" r="5" fill="rgb(230, 73, 40)" stroke="rgb(198, 63, 34)"/>
<circle class="pt" cx="1222.8" cy="741.4" r="5" fill="rgb(232, 80, 41)" stroke="rgb(200, 69, 35)"/>
<circle class="pt" cx="1040.8" cy="744.9" r="5" fill="rgb(232, 78, 40)" stroke="rgb(200, 67, 34)"/>
<circle class="pt" cx="1037.3" cy="749.8" r="5" fill="rgb(231, 75, 40)" stroke="rgb(199, 64, 34)"/>
<circle class="pt" cx="1061.2" cy="757.6" r="5" fill="rgb(230, 71, 40)" stroke="rgb(198, 61, 34)"/>
<circle class="pt" cx="1052.7" cy="751.2" r="5" fill="rgb(231, 74, 40)" stroke="rgb(199, 64, 34)"/>
<circle class="pt" cx="1026.7" cy="769.1" r="5" fill="rgb(228, 64, 39)" stroke="rgb(196, 55, 34)"/>
<circle class="pt" cx="1034.4" cy="788.1" r="5" fill="rgb(225, 53, 37)" stroke="rgb(194, 46, 32)"/>
<circle class="pt" cx="1045.0" cy="793.0" r="5" fill="rgb(224, 50, 37)" stroke="rgb(193, 43, 32)"/>
<circle class="pt" cx="1056.9" cy="792.0" r="5" fill="rgb(224, 51, 37)" stroke="rgb(193, 44, 32)"/>
<circle class="pt" cx="1111.5" cy="774.1" r="5" fill="rgb(227, 62, 38)" stroke="rgb(195, 53, 33)"/>
<circle class="pt" cx="1092.8" cy="794.4" r="5" fill="rgb(224, 49, 37)" stroke="rgb(193, 42, 32)"/>
<circle class="pt" cx="1099.5" cy="793.7" r="5" fill="rgb(224, 50, 37)" stroke="rgb(193, 43, 32)"/>
<circle class="pt" cx="1119.5" cy="805.0" r="5" fill="rgb(222, 43, 36)" stroke="rgb(191, 37, 31)"/>
<circle class="pt" cx="1113.6" cy="818.8" r="5" fill="rgb(220, 34, 35)" stroke="rgb(189, 29, 30)"/>
<circle class="pt" cx="1170.1" cy="768.1" r="5" fill="rgb(228, 65, 39)" stroke="rgb(196, 56, 34)"/>
<circle class="pt" cx="1198.2" cy="768.7" r="5" fill="rgb(228, 65, 39)" stroke="rgb(196, 56, 34)"/>
<circle class="pt" cx="1177.9" cy="801.5" r="5" fill="rgb(223, 45, 36)" stroke="rgb(192, 39, 31)"/>
<circle class="pt" cx="1220.3" cy="792.3" r="5" fill="rgb(224, 51, 37)" stroke="rgb(193, 44, 32)"/>
<circle class="pt" cx="1230.5" cy="622.9" r="5" fill="rgb(245, 146, 54)" stroke="rgb(211, 126, 46)"/>
<circle class="pt" cx="1260.8" cy="637.4" r="5" fill="rgb(244, 140, 54)" stroke="rgb(210, 120, 46)"/>
<circle class="pt" cx="1343.4" cy="614.9" r="5" fill="rgb(245, 149, 54)" stroke="rgb(211, 128, 46)"/>
<circle class="pt" cx="1434.4" cy="636.0" r="5" fill="rgb(244, 140, 54)" stroke="rgb(210, 120, 46)"/>
<circle class="pt" cx="1412.2" cy="658.5" r="5" fill="rgb(243, 129, 52)" stroke="rgb(209, 111, 45)"/>
<circle class="pt" cx="1357.5" cy="668.6" r="5" fill="rgb(242, 123, 50)" stroke="rgb(208, 106, 43)"/>
<circle class="pt" cx="1239.0" cy="660.1" r="5" fill="rgb(243, 128, 52)" stroke="rgb(209, 110, 45)"/>
<circle class="pt" cx="1254.9" cy="682.3" r="5" fill="rgb(240, 114, 48)" stroke="rgb(206, 98, 41)"/>
<circle class="pt" cx="1426.4" cy="691.9" r="5" fill="rgb(239, 109, 47)" stroke="rgb(206, 94, 40)"/>
<circle class="pt" cx="1363.7" cy="697.5" r="5" fill="rgb(238, 105, 46)" stroke="rgb(205, 90, 40)"/>
<circle class="pt" cx="1361.3" cy="709.1" r="5" fill="rgb(237, 98, 44)" stroke="rgb(204, 84, 38)"/>
<circle class="pt" cx="1258.7" cy="710.7" r="5" fill="rgb(237, 97, 43)" stroke="rgb(204, 83, 37)"/>
<circle class="pt" cx="1314.9" cy="711.4" r="5" fill="rgb(237, 97, 43)" stroke="rgb(204, 83, 37)"/>
<circle class="pt" cx="1340.9" cy="718.9" r="5" fill="rgb(236, 92, 42)" stroke="rgb(203, 79, 36)"/>
<circle class="pt" cx="1400.0" cy="714.0" r="5" fill="rgb(237, 95, 43)" stroke="rgb(204, 82, 37)"/>
<circle class="pt" cx="1438.2" cy="729.9" r="5" fill="rgb(234, 86, 41)" stroke="rgb(201, 74, 35)"/>
<circle class="pt" cx="1279.1" cy="722.4" r="5" fill="rgb(236, 90, 42)" stroke="rgb(203, 77, 36)"/>
<circle class="pt" cx="1300.8" cy="725.9" r="5" fill="rgb(235, 88, 42)" stroke="rgb(202, 76, 36)"/>
<circle class="pt" cx="1283.3" cy="735.8" r="5" fill="rgb(233, 83, 41)" stroke="rgb(200, 71, 35)"/>
<circle class="pt" cx="1339.2" cy="732.2" r="5" fill="rgb(234, 85, 41)" stroke="rgb(201, 73, 35)"/>
<circle class="pt" cx="1371.1" cy="740.7" r="5" fill="rgb(233, 80, 41)" stroke="rgb(200, 69, 35)"/>
<circle class="pt" cx="1350.1" cy="736.5" r="5" fill="rgb(233, 83, 41)" stroke="rgb(200, 71, 35)"/>
<circle class="pt" cx="1391.5" cy="748.4" r="5" fill="rgb(231, 76, 40)" stroke="rgb(199, 65, 34)"/>
<circle class="pt" cx="1422.5" cy="755.4" r="5" fill="rgb(230, 72, 40)" stroke="rgb(198, 62, 34)"/>
<circle class="pt" cx="1347.2" cy="751.9" r="5" fill="rgb(231, 74, 40)" stroke="rgb(199, 64, 34)"/>
<circle class="pt" cx="1307.2" cy="759.4" r="5" fill="rgb(229, 70, 39)" stroke="rgb(197, 60, 34)"/>
<circle class="pt" cx="1287.2" cy="753.3" r="5" fill="rgb(230, 73, 40)" stroke="rgb(198, 63, 34)"/>
<circle class="pt" cx="1272.7" cy="745.6" r="5" fill="rgb(232, 77, 40)" stroke="rgb(200, 66, 34)"/>
<circle class="pt" cx="1236.9" cy="747.0" r="5" fill="rgb(231, 77, 40)" stroke="rgb(199, 66, 34)"/>
<circle class="pt" cx="1250.2" cy="748.4" r="5" fill="rgb(231, 76, 40)" stroke="rgb(199, 65, 34)"/>
<circle class="pt" cx="1242.5" cy="766.7" r="5" fill="rgb(228, 66, 39)" stroke="rgb(196, 57, 34)"/>
<circle class="pt" cx="1234.5" cy="792.0" r="5" fill="rgb(224, 51, 37)" stroke="rgb(193, 44, 32)"/>
<circle class="pt" cx="1309.3" cy="776.2" r="5" fill="rgb(227, 60, 38)" stroke="rgb(195, 52, 33)"/>
<circle class="pt" cx="1325.4" cy="769.1" r="5" fill="rgb(228, 64, 39)" stroke="rgb(196, 55, 34)"/>
<circle class="pt" cx="1329.7" cy="787.0" r="5" fill="rgb(225, 54, 37)" stroke="rgb(194, 46, 32)"/>
<circle class="pt" cx="1323.3" cy="805.3" r="5" fill="rgb(222, 42, 36)" stroke="rgb(191, 36, 31)"/>
<circle class="pt" cx="1345.1" cy="764.2" r="5" fill="rgb(229, 67, 39)" stroke="rgb(197, 58, 34)"/>
<circle class="pt" cx="1351.5" cy="771.2" r="5" fill="rgb(228, 63, 39)" stroke="rgb(196, 54, 34)"/>
<circle class="pt" cx="1365.9" cy="785.6" r="5" fill="rgb(225, 55, 38)" stroke="rgb(194, 47, 33)"/>
<circle class="pt" cx="1377.5" cy="760.7" r="5" fill="rgb(229, 69, 39)" stroke="rgb(197, 59, 34)"/>
<circle class="pt" cx="1406.3" cy="774.1" r="5" fill="rgb(227, 62, 38)" stroke="rgb(195, 53, 33)"/>
<circle class="pt" cx="1402.1" cy="764.9" r="5" fill="rgb(229, 67, 39)" stroke="rgb(197, 58, 34)"/>
<circle class="pt" cx="1404.2" cy="799.1" r="5" fill="rgb(223, 46, 36)" stroke="rgb(192, 40, 31)"/>
</g>
<g id="labs">
<text class="lab" transform="translate(292.0,100.6) scale(.9,1)">RAY</text>
<text class="lab" transform="translate(175.8,611.8) scale(.9,1)">DOT</text>
<text class="lab" transform="translate(167.4,645.4) scale(.9,1)">SHIB</text>
<text class="lab" transform="translate(243.7,646.6) scale(.9,1)">ARB</text>
<text class="lab" transform="translate(306.6,635.8) scale(.9,1)">GALA</text>
<text class="lab" transform="translate(197.8,657.6) scale(.9,1)">ONDO</text>
<text class="lab" transform="translate(206.0,665.6) scale(.9,1)">ICP</text>
<text class="lab" transform="translate(240.2,671.6) scale(.9,1)">TIA</text>
<text class="lab" transform="translate(141.8,677.0) scale(.9,1)">XRP</text>
<text class="lab" transform="translate(162.2,677.0) scale(.9,1)">AVAX</text>
<text class="lab" transform="translate(199.9,677.0) scale(.9,1)">NEAR</text>
<text class="lab" transform="translate(235.6,677.0) scale(.9,1)">HNT</text>
<text class="lab" transform="translate(231.1,678.0) scale(.9,1)">FET</text>
<text class="lab" transform="translate(227.6,686.4) scale(.9,1)">ENA</text>
<text class="lab" transform="translate(177.4,686.4) scale(.9,1)">LTC</text>
<text class="lab" transform="translate(193.4,685.7) scale(.9,1)">APT</text>
<text class="lab" transform="translate(151.2,691.6) scale(.9,1)">DOGE</text>
<text class="lab" transform="translate(254.3,691.3) scale(.9,1)">JUP</text>
<text class="lab" transform="translate(309.1,690.6) scale(.9,1)">SAND</text>
<text class="lab" transform="translate(314.7,690.6) scale(.9,1)">THETA</text>
<text class="lab" transform="translate(347.1,682.9) scale(.9,1)">PYTH</text>
<text class="lab" transform="translate(336.5,686.4) scale(.9,1)">FLOW</text>
<text class="lab" transform="translate(153.5,699.1) scale(.9,1)">ADA</text>
<text class="lab" transform="translate(247.7,702.6) scale(.9,1)">WLD</text>
<text class="lab" transform="translate(285.9,699.1) scale(.9,1)">QNT</text>
<text class="lab" transform="translate(276.1,704.0) scale(.9,1)">SEI</text>
<text class="lab" transform="translate(332.3,700.5) scale(.9,1)">WIF</text>
<text class="lab" transform="translate(191.7,707.8) scale(.9,1)">UNI</text>
<text class="lab" transform="translate(211.4,710.3) scale(.9,1)">ETC</text>
<text class="lab" transform="translate(221.9,713.1) scale(.9,1)">VET</text>
<text class="lab" transform="translate(172.0,715.2) scale(.9,1)">HBAR</text>
<text class="lab" transform="translate(252.2,715.9) scale(.9,1)">OP</text>
<text class="lab" transform="translate(141.1,719.4) scale(.9,1)">ETH</text>
<text class="lab" transform="translate(144.2,722.5) scale(.9,1)">SOL</text>
<text class="lab" transform="translate(147.8,724.8) scale(.9,1)">BNB</text>
<text class="lab" transform="translate(151.6,723.9) scale(.9,1)">TRX</text>
<text class="lab" transform="translate(155.9,722.5) scale(.9,1)">LINK</text>
<text class="lab" transform="translate(160.1,720.8) scale(.9,1)">XLM</text>
<text class="lab" transform="translate(164.7,718.9) scale(.9,1)">TON</text>
<text class="lab" transform="translate(168.9,716.6) scale(.9,1)">BGB</text>
<text class="lab" transform="translate(282.4,718.7) scale(.9,1)">GRT</text>
<text class="lab" transform="translate(304.2,713.8) scale(.9,1)">FLOKI</text>
<text class="lab" transform="translate(312.6,720.8) scale(.9,1)">LDO</text>
<text class="lab" transform="translate(339.3,709.6) scale(.9,1)">MANA</text>
<text class="lab" transform="translate(300.0,726.5) scale(.9,1)">IOTA</text>
<text class="lab" transform="translate(326.0,712.4) scale(.9,1)">XTZ</text>
<text class="lab" transform="translate(349.2,716.6) scale(.9,1)">MKR</text>
<text class="lab" transform="translate(342.1,724.4) scale(.9,1)">NEO</text>
<text class="lab" transform="translate(189.6,725.8) scale(.9,1)">PEPE</text>
<text class="lab" transform="translate(201.5,726.5) scale(.9,1)">KAS</text>
<text class="lab" transform="translate(214.9,724.4) scale(.9,1)">AAVE</text>
<text class="lab" transform="translate(231.1,723.7) scale(.9,1)">ATOM</text>
<text class="lab" transform="translate(221.2,715.9) scale(.9,1)">FIL</text>
<text class="lab" transform="translate(309.8,729.3) scale(.9,1)">CAKE</text>
<text class="lab" transform="translate(250.8,736.3) scale(.9,1)">BONK</text>
<text class="lab" transform="translate(173.4,742.6) scale(.9,1)">BCH</text>
<text class="lab" transform="translate(144.6,746.2) scale(.9,1)">DAI</text>
<text class="lab" transform="translate(148.1,744.7) scale(.9,1)">USDC</text>
<text class="lab" transform="translate(210.0,741.9) scale(.9,1)">ALGO</text>
<text class="lab" transform="translate(288.7,742.6) scale(.9,1)">CRV</text>
<text class="lab" transform="translate(319.6,740.5) scale(.9,1)">KAIA</text>
<text class="lab" transform="translate(333.7,746.2) scale(.9,1)">ENS</text>
<text class="lab" transform="translate(245.1,747.6) scale(.9,1)">S</text>
<text class="lab" transform="translate(139.3,790.8) scale(.9,1)">BTC</text>
<text class="lab" transform="translate(187.8,786.1) scale(.9,1)">XMR</text>
<text class="lab" transform="translate(157.3,760.1) scale(.9,1)">SUI</text>
<text class="lab" transform="translate(203.9,757.7) scale(.9,1)">TAO</text>
<text class="lab" transform="translate(226.2,776.7) scale(.9,1)">RENDER</text>
<text class="lab" transform="translate(298.6,804.8) scale(.9,1)">FORM</text>
<text class="lab" transform="translate(322.5,816.4) scale(.9,1)">BNX</text>
<text class="lab" transform="translate(272.5,786.5) scale(.9,1)">PAXG</text>
<text class="lab" transform="translate(278.9,779.5) scale(.9,1)">PI</text>
<text class="lab" transform="translate(268.3,772.5) scale(.9,1)">IMX</text>
<text class="lab" transform="translate(264.8,766.2) scale(.9,1)">STX</text>
<text class="lab" transform="translate(259.2,759.1) scale(.9,1)">INJ</text>
<text class="lab" transform="translate(274.0,752.8) scale(.9,1)">EOS</text>
<text class="lab" transform="translate(296.4,772.5) scale(.9,1)">CFX</text>
<text class="lab" transform="translate(290.8,766.2) scale(.9,1)">A</text>
<text class="lab" transform="translate(302.8,759.1) scale(.9,1)">KAVA</text>
<text class="lab" transform="translate(318.2,757.0) scale(.9,1)">GT</text>
<text class="lab" transform="translate(326.0,754.2) scale(.9,1)">NEXO</text>
<text class="lab" transform="translate(329.5,760.5) scale(.9,1)">PENGU</text>
<text class="lab" transform="translate(330.6,768.3) scale(.9,1)">W</text>
<text class="lab" transform="translate(524.5,607.5) scale(.9,1)">XEM</text>
<text class="lab" transform="translate(445.4,617.1) scale(.9,1)">MELANIA</text>
<text class="lab" transform="translate(461.9,626.0) scale(.9,1)">CVX</text>
<text class="lab" transform="translate(385.3,643.4) scale(.9,1)">STRK</text>
<text class="lab" transform="translate(395.3,648.0) scale(.9,1)">AXS</text>
<text class="lab" transform="translate(566.6,643.1) scale(.9,1)">RVN</text>
<text class="lab" transform="translate(369.1,659.0) scale(.9,1)">DYDX</text>
<text class="lab" transform="translate(373.7,660.4) scale(.9,1)">OM</text>
<text class="lab" transform="translate(528.4,658.6) scale(.9,1)">1MBABYDOGE</text>
<text class="lab" transform="translate(441.2,673.7) scale(.9,1)">MINA</text>
<text class="lab" transform="translate(558.6,672.3) scale(.9,1)">ONE</text>
<text class="lab" transform="translate(378.7,681.5) scale(.9,1)">RUNE</text>
<text class="lab" transform="translate(403.3,681.5) scale(.9,1)">CHZ</text>
<text class="lab" transform="translate(419.7,681.5) scale(.9,1)">LUNC</text>
<text class="lab" transform="translate(455.3,679.4) scale(.9,1)">JASMY</text>
<text class="lab" transform="translate(467.2,680.8) scale(.9,1)">KSM</text>
<text class="lab" transform="translate(459.5,684.3) scale(.9,1)">DASH</text>
<text class="lab" transform="translate(396.9,692.0) scale(.9,1)">APE</text>
<text class="lab" transform="translate(489.7,691.3) scale(.9,1)">SNX</text>
<text class="lab" transform="translate(486.2,696.2) scale(.9,1)">ZIL</text>
<text class="lab" transform="translate(482.0,699.8) scale(.9,1)">NOT</text>
<text class="lab" transform="translate(542.5,685.7) scale(.9,1)">ID</text>
<text class="lab" transform="translate(569.5,681.5) scale(.9,1)">HOT</text>
<text class="lab" transform="translate(557.2,694.1) scale(.9,1)">DEXE</text>
<text class="lab" transform="translate(532.6,696.9) scale(.9,1)">ROSE</text>
<text class="lab" transform="translate(383.6,701.9) scale(.9,1)">AR</text>
<text class="lab" transform="translate(401.9,705.4) scale(.9,1)">COMP</text>
<text class="lab" transform="translate(411.0,706.1) scale(.9,1)">ZRO</text>
<text class="lab" transform="translate(427.2,698.4) scale(.9,1)">1INCH</text>
<text class="lab" transform="translate(439.8,702.6) scale(.9,1)">AKT</text>
<text class="lab" transform="translate(425.8,710.3) scale(.9,1)">GMT</text>
<text class="lab" transform="translate(430.0,718.0) scale(.9,1)">SUN</text>
<text class="lab" transform="translate(376.8,718.0) scale(.9,1)">EGLD</text>
<text class="lab" transform="translate(399.1,718.7) scale(.9,1)">AXL</text>
<text class="lab" transform="translate(514.3,703.3) scale(.9,1)">MOVE</text>
<text class="lab" transform="translate(521.4,708.2) scale(.9,1)">ZK</text>
<text class="lab" transform="translate(522.8,715.9) scale(.9,1)">ETHW</text>
<text class="lab" transform="translate(555.1,702.6) scale(.9,1)">PENDLE</text>
<text class="lab" transform="translate(544.6,714.5) scale(.9,1)">TFUEL</text>
<text class="lab" transform="translate(478.5,715.9) scale(.9,1)">ANDREW</text>
<text class="lab" transform="translate(476.4,723.7) scale(.9,1)">BLUR</text>
<text class="lab" transform="translate(492.5,723.7) scale(.9,1)">QTUM</text>
<text class="lab" transform="translate(515.7,727.2) scale(.9,1)">ASTR</text>
<text class="lab" transform="translate(534.7,725.1) scale(.9,1)">GLM</text>
<text class="lab" transform="translate(562.8,730.7) scale(.9,1)">XLINK</text>
<text class="lab" transform="translate(472.2,734.9) scale(.9,1)">MORPHO</text>
<text class="lab" transform="translate(508.0,739.8) scale(.9,1)">AIXBT</text>
<text class="lab" transform="translate(494.7,742.6) scale(.9,1)">SAFE</text>
<text class="lab" transform="translate(500.3,747.6) scale(.9,1)">ELF</text>
<text class="lab" transform="translate(408.9,739.8) scale(.9,1)">SUPER</text>
<text class="lab" transform="translate(407.5,746.2) scale(.9,1)">BRETT</text>
<text class="lab" transform="translate(363.2,738.4) scale(.9,1)">RSR</text>
<text class="lab" transform="translate(375.1,741.9) scale(.9,1)">GLMR</text>
<text class="lab" transform="translate(453.9,746.2) scale(.9,1)">PLUME</text>
<text class="lab" transform="translate(444.0,749.2) scale(.9,1)">MOG</text>
<text class="lab" transform="translate(432.8,749.0) scale(.9,1)">POPCAT</text>
<text class="lab" transform="translate(550.2,748.3) scale(.9,1)">ANKR</text>
<text class="lab" transform="translate(357.6,748.3) scale(.9,1)">DEEP</text>
<text class="lab" transform="translate(361.1,803.7) scale(.9,1)">LAYER</text>
<text class="lab" transform="translate(389.9,756.0) scale(.9,1)">SFP</text>
<text class="lab" transform="translate(352.0,760.5) scale(.9,1)">ZEN</text>
<text class="lab" transform="translate(353.4,769.0) scale(.9,1)">CKB</text>
<text class="lab" transform="translate(367.0,766.6) scale(.9,1)">BEAM</text>
<text class="lab" transform="translate(359.0,758.4) scale(.9,1)">KDA</text>
<text class="lab" transform="translate(357.6,751.4) scale(.9,1)">MEW</text>
<text class="lab" transform="translate(405.4,780.2) scale(.9,1)">TURBO</text>
<text class="lab" transform="translate(413.4,778.1) scale(.9,1)">BORA</text>
<text class="lab" transform="translate(431.4,757.0) scale(.9,1)">WOO</text>
<text class="lab" transform="translate(474.0,771.8) scale(.9,1)">CHEEMS</text>
<text class="lab" transform="translate(496.1,777.1) scale(.9,1)">VTHO</text>
<text class="lab" transform="translate(484.1,756.3) scale(.9,1)">GMX</text>
<text class="lab" transform="translate(510.8,766.2) scale(.9,1)">FXS</text>
<text class="lab" transform="translate(518.6,769.0) scale(.9,1)">SKL</text>
<text class="lab" transform="translate(527.0,760.8) scale(.9,1)">KNC</text>
<text class="lab" transform="translate(530.5,790.1) scale(.9,1)">GAS</text>
<text class="lab" transform="translate(505.9,751.4) scale(.9,1)">ZRX</text>
<text class="lab" transform="translate(512.2,750.7) scale(.9,1)">TWT</text>
<text class="lab" transform="translate(565.0,782.1) scale(.9,1)">T</text>
<text class="lab" transform="translate(750.5,622.4) scale(.9,1)">AUDIO</text>
<text class="lab" transform="translate(766.7,629.8) scale(.9,1)">LPT</text>
<text class="lab" transform="translate(754.4,634.7) scale(.9,1)">MANTA</text>
<text class="lab" transform="translate(778.6,649.4) scale(.9,1)">DYM</text>
<text class="lab" transform="translate(786.6,662.1) scale(.9,1)">BLZ</text>
<text class="lab" transform="translate(701.3,655.1) scale(.9,1)">ICX</text>
<text class="lab" transform="translate(728.0,650.1) scale(.9,1)">SATS</text>
<text class="lab" transform="translate(732.2,662.1) scale(.9,1)">AGLD</text>
<text class="lab" transform="translate(740.4,662.1) scale(.9,1)">ARK</text>
<text class="lab" transform="translate(643.7,667.7) scale(.9,1)">ETHFI</text>
<text class="lab" transform="translate(580.4,678.7) scale(.9,1)">ORDI</text>
<text class="lab" transform="translate(579.0,690.6) scale(.9,1)">YGG</text>
<text class="lab" transform="translate(571.0,703.3) scale(.9,1)">IOTX</text>
<text class="lab" transform="translate(574.8,715.9) scale(.9,1)">HIVE</text>
<text class="lab" transform="translate(652.8,676.6) scale(.9,1)">BAND</text>
<text class="lab" transform="translate(630.3,683.6) scale(.9,1)">LRC</text>
<text class="lab" transform="translate(647.2,691.3) scale(.9,1)">ARKM</text>
<text class="lab" transform="translate(628.9,696.9) scale(.9,1)">ONT</text>
<text class="lab" transform="translate(659.8,693.4) scale(.9,1)">BICO</text>
<text class="lab" transform="translate(667.6,693.9) scale(.9,1)">GNO</text>
<text class="lab" transform="translate(641.5,696.9) scale(.9,1)">SC</text>
<text class="lab" transform="translate(614.8,713.8) scale(.9,1)">SSV</text>
<text class="lab" transform="translate(626.8,714.5) scale(.9,1)">WAVES</text>
<text class="lab" transform="translate(637.3,718.0) scale(.9,1)">DGB</text>
<text class="lab" transform="translate(708.3,675.9) scale(.9,1)">BOME</text>
<text class="lab" transform="translate(718.2,670.9) scale(.9,1)">MEME</text>
<text class="lab" transform="translate(768.8,678.7) scale(.9,1)">RPL</text>
<text class="lab" transform="translate(780.7,690.2) scale(.9,1)">ACX</text>
<text class="lab" transform="translate(705.5,706.1) scale(.9,1)">FLUX</text>
<text class="lab" transform="translate(742.8,701.9) scale(.9,1)">UMA</text>
<text class="lab" transform="translate(762.5,702.6) scale(.9,1)">IOST</text>
<text class="lab" transform="translate(730.1,709.6) scale(.9,1)">POWR</text>
<text class="lab" transform="translate(744.2,715.9) scale(.9,1)">METIS</text>
<text class="lab" transform="translate(695.0,712.4) scale(.9,1)">USUAL</text>
<text class="lab" transform="translate(589.5,736.3) scale(.9,1)">WAN</text>
<text class="lab" transform="translate(600.8,739.1) scale(.9,1)">NMR</text>
<text class="lab" transform="translate(609.2,727.9) scale(.9,1)">LYX</text>
<text class="lab" transform="translate(620.5,736.3) scale(.9,1)">CORE</text>
<text class="lab" transform="translate(625.0,736.3) scale(.9,1)">DRIFT</text>
<text class="lab" transform="translate(621.2,743.3) scale(.9,1)">PIXEL</text>
<text class="lab" transform="translate(655.6,730.7) scale(.9,1)">SXP</text>
<text class="lab" transform="translate(661.2,733.5) scale(.9,1)">MASK</text>
<text class="lab" transform="translate(673.9,737.7) scale(.9,1)">SAHARA</text>
<text class="lab" transform="translate(680.9,741.2) scale(.9,1)">AEVO</text>
<text class="lab" transform="translate(690.1,732.1) scale(.9,1)">MAGIC</text>
<text class="lab" transform="translate(714.0,728.6) scale(.9,1)">NEIRO</text>
<text class="lab" transform="translate(723.8,726.5) scale(.9,1)">STO</text>
<text class="lab" transform="translate(735.7,732.8) scale(.9,1)">CTK</text>
<text class="lab" transform="translate(734.3,741.9) scale(.9,1)">ROM</text>
<text class="lab" transform="translate(758.2,722.3) scale(.9,1)">MERL</text>
<text class="lab" transform="translate(763.9,725.8) scale(.9,1)">VANA</text>
<text class="lab" transform="translate(770.2,720.1) scale(.9,1)">ZETA</text>
<text class="lab" transform="translate(782.8,728.6) scale(.9,1)">ONG</text>
<text class="lab" transform="translate(788.5,732.8) scale(.9,1)">LQTY</text>
<text class="lab" transform="translate(776.5,736.3) scale(.9,1)">PHA</text>
<text class="lab" transform="translate(572.9,750.4) scale(.9,1)">KDN</text>
<text class="lab" transform="translate(585.0,759.6) scale(.9,1)">BSW</text>
<text class="lab" transform="translate(593.0,756.3) scale(.9,1)">CELO</text>
<text class="lab" transform="translate(576.9,786.1) scale(.9,1)">BABY</text>
<text class="lab" transform="translate(605.0,781.6) scale(.9,1)">ORCA</text>
<text class="lab" transform="translate(639.4,778.5) scale(.9,1)">CETUS</text>
<text class="lab" transform="translate(665.4,797.1) scale(.9,1)">ALCH</text>
<text class="lab" transform="translate(681.6,801.0) scale(.9,1)">INIT</text>
<text class="lab" transform="translate(676.0,759.6) scale(.9,1)">COW</text>
<text class="lab" transform="translate(697.8,770.0) scale(.9,1)">RED</text>
<text class="lab" transform="translate(704.1,752.8) scale(.9,1)">CVC</text>
<text class="lab" transform="translate(746.3,771.8) scale(.9,1)">B3</text>
<text class="lab" transform="translate(738.3,760.8) scale(.9,1)">ANIME</text>
<text class="lab" transform="translate(772.6,762.2) scale(.9,1)">AERGO</text>
<text class="lab" transform="translate(837.2,636.1) scale(.9,1)">DENT</text>
<text class="lab" transform="translate(937.9,638.9) scale(.9,1)">SCRT</text>
<text class="lab" transform="translate(865.5,651.3) scale(.9,1)">GOAT</text>
<text class="lab" transform="translate(815.1,647.1) scale(.9,1)">NTRN</text>
<text class="lab" transform="translate(804.6,657.6) scale(.9,1)">XAI</text>
<text class="lab" transform="translate(971.9,658.6) scale(.9,1)">C98</text>
<text class="lab" transform="translate(970.5,668.4) scale(.9,1)">CTSI</text>
<text class="lab" transform="translate(806.7,668.4) scale(.9,1)">OG</text>
<text class="lab" transform="translate(828.5,671.4) scale(.9,1)">CHR</text>
<text class="lab" transform="translate(827.1,680.1) scale(.9,1)">TRB</text>
<text class="lab" transform="translate(844.7,674.4) scale(.9,1)">BIGTIME</text>
<text class="lab" transform="translate(857.0,673.7) scale(.9,1)">DOGS</text>
<text class="lab" transform="translate(859.4,685.4) scale(.9,1)">SAGA</text>
<text class="lab" transform="translate(808.8,687.8) scale(.9,1)">XVG</text>
<text class="lab" transform="translate(798.3,698.4) scale(.9,1)">ILV</text>
<text class="lab" transform="translate(897.4,678.0) scale(.9,1)">MTL</text>
<text class="lab" transform="translate(903.7,685.0) scale(.9,1)">OXT</text>
<text class="lab" transform="translate(1006.6,672.3) scale(.9,1)">CYBER</text>
<text class="lab" transform="translate(960.0,687.8) scale(.9,1)">MOVR</text>
<text class="lab" transform="translate(966.3,694.1) scale(.9,1)">MBL</text>
<text class="lab" transform="translate(982.5,699.1) scale(.9,1)">EDU</text>
<text class="lab" transform="translate(996.5,696.9) scale(.9,1)">AI</text>
<text class="lab" transform="translate(936.1,701.9) scale(.9,1)">PONKE</text>
<text class="lab" transform="translate(929.7,712.4) scale(.9,1)">VANRY</text>
<text class="lab" transform="translate(881.2,711.7) scale(.9,1)">AUCTION</text>
<text class="lab" transform="translate(839.1,703.3) scale(.9,1)">FIDA</text>
<text class="lab" transform="translate(847.5,700.5) scale(.9,1)">IQ</text>
<text class="lab" transform="translate(851.7,717.3) scale(.9,1)">PEOPLE</text>
<text class="lab" transform="translate(861.5,723.0) scale(.9,1)">KMNO</text>
<text class="lab" transform="translate(895.3,718.7) scale(.9,1)">USTC</text>
<text class="lab" transform="translate(912.2,722.3) scale(.9,1)">XNO</text>
<text class="lab" transform="translate(816.8,724.4) scale(.9,1)">ORBS</text>
<text class="lab" transform="translate(830.6,730.7) scale(.9,1)">CGPT</text>
<text class="lab" transform="translate(833.1,737.0) scale(.9,1)">STEEM</text>
<text class="lab" transform="translate(792.7,718.0) scale(.9,1)">SONIC</text>
<text class="lab" transform="translate(950.1,728.6) scale(.9,1)">RIF</text>
<text class="lab" transform="translate(962.1,728.6) scale(.9,1)">FAIR</text>
<text class="lab" transform="translate(974.7,735.6) scale(.9,1)">SCR</text>
<text class="lab" transform="translate(988.8,733.5) scale(.9,1)">DF</text>
<text class="lab" transform="translate(1005.0,724.4) scale(.9,1)">X</text>
<text class="lab" transform="translate(882.6,738.4) scale(.9,1)">BANANA</text>
<text class="lab" transform="translate(871.4,744.7) scale(.9,1)">NFP</text>
<text class="lab" transform="translate(901.6,744.0) scale(.9,1)">BB</text>
<text class="lab" transform="translate(917.8,744.0) scale(.9,1)">ALT</text>
<text class="lab" transform="translate(922.0,748.3) scale(.9,1)">ARC</text>
<text class="lab" transform="translate(796.9,763.4) scale(.9,1)">VVV</text>
<text class="lab" transform="translate(824.7,776.0) scale(.9,1)">NIL</text>
<text class="lab" transform="translate(822.9,785.1) scale(.9,1)">AGIX</text>
<text class="lab" transform="translate(841.2,786.3) scale(.9,1)">OMNI</text>
<text class="lab" transform="translate(867.2,783.7) scale(.9,1)">WCT</text>
<text class="lab" transform="translate(893.6,796.8) scale(.9,1)">NEIROETH</text>
<text class="lab" transform="translate(909.6,771.8) scale(.9,1)">TST</text>
<text class="lab" transform="translate(946.6,770.1) scale(.9,1)">MAX</text>
<text class="lab" transform="translate(943.8,778.5) scale(.9,1)">SYN</text>
<text class="lab" transform="translate(954.3,798.2) scale(.9,1)">FUN</text>
<text class="lab" transform="translate(879.8,753.2) scale(.9,1)">HFT</text>
<text class="lab" transform="translate(952.2,750.7) scale(.9,1)">COOKIE</text>
<text class="lab" transform="translate(955.7,755.6) scale(.9,1)">AVA</text>
<text class="lab" transform="translate(960.0,760.5) scale(.9,1)">PROM</text>
<text class="lab" transform="translate(1214.4,591.1) scale(.9,1)">GTC</text>
<text class="lab" transform="translate(1123.3,624.8) scale(.9,1)">REZ</text>
<text class="lab" transform="translate(1133.6,640.7) scale(.9,1)">MAV</text>
<text class="lab" transform="translate(1147.6,632.3) scale(.9,1)">SNT</text>
<text class="lab" transform="translate(1154.7,629.8) scale(.9,1)">NSP</text>
<text class="lab" transform="translate(1161.7,626.9) scale(.9,1)">ATA</text>
<text class="lab" transform="translate(1071.0,637.2) scale(.9,1)">DUSK</text>
<text class="lab" transform="translate(1023.2,657.2) scale(.9,1)">BNT</text>
<text class="lab" transform="translate(1049.2,657.2) scale(.9,1)">PORTAL</text>
<text class="lab" transform="translate(1052.0,665.6) scale(.9,1)">ALPINE</text>
<text class="lab" transform="translate(1060.5,666.3) scale(.9,1)">BADGER</text>
<text class="lab" transform="translate(1189.8,656.8) scale(.9,1)">HOOK</text>
<text class="lab" transform="translate(1228.5,660.0) scale(.9,1)">THE</text>
<text class="lab" transform="translate(1063.3,672.3) scale(.9,1)">AGI</text>
<text class="lab" transform="translate(1073.1,670.9) scale(.9,1)">PNUT</text>
<text class="lab" transform="translate(1030.9,680.4) scale(.9,1)">CMN</text>
<text class="lab" transform="translate(1014.1,699.1) scale(.9,1)">TRU</text>
<text class="lab" transform="translate(1089.3,673.7) scale(.9,1)">SYS</text>
<text class="lab" transform="translate(1083.0,680.8) scale(.9,1)">RLC</text>
<text class="lab" transform="translate(1103.6,678.0) scale(.9,1)">AI16Z</text>
<text class="lab" transform="translate(1115.6,674.2) scale(.9,1)">BAKE</text>
<text class="lab" transform="translate(1087.2,701.2) scale(.9,1)">STG</text>
<text class="lab" transform="translate(1146.2,680.1) scale(.9,1)">ACE</text>
<text class="lab" transform="translate(1206.7,669.5) scale(.9,1)">BEL</text>
<text class="lab" transform="translate(1175.7,681.5) scale(.9,1)">TLM</text>
<text class="lab" transform="translate(1184.2,684.3) scale(.9,1)">RDNT</text>
<text class="lab" transform="translate(1192.6,688.5) scale(.9,1)">LISTA</text>
<text class="lab" transform="translate(1196.8,678.0) scale(.9,1)">BOND</text>
<text class="lab" transform="translate(1156.1,692.7) scale(.9,1)">SLERF</text>
<text class="lab" transform="translate(1166.3,705.4) scale(.9,1)">GPS</text>
<text class="lab" transform="translate(1210.2,700.5) scale(.9,1)">SWARMS</text>
<text class="lab" transform="translate(1208.1,713.1) scale(.9,1)">HEI</text>
<text class="lab" transform="translate(1117.4,718.0) scale(.9,1)">ARPA</text>
<text class="lab" transform="translate(1069.6,724.4) scale(.9,1)">ZEREBRO</text>
<text class="lab" transform="translate(1075.2,717.3) scale(.9,1)">LUMIA</text>
<text class="lab" transform="translate(1033.0,719.4) scale(.9,1)">CAT</text>
<text class="lab" transform="translate(1137.1,730.0) scale(.9,1)">HIGH</text>
<text class="lab" transform="translate(1158.2,729.3) scale(.9,1)">STA</text>
<text class="lab" transform="translate(1163.8,742.6) scale(.9,1)">TNSR</text>
<text class="lab" transform="translate(1222.8,730.7) scale(.9,1)">ERIC</text>
<text class="lab" transform="translate(1040.8,734.2) scale(.9,1)">SPELL</text>
<text class="lab" transform="translate(1037.3,739.1) scale(.9,1)">BAN</text>
<text class="lab" transform="translate(1061.2,746.9) scale(.9,1)">BANANAS31</text>
<text class="lab" transform="translate(1052.7,740.5) scale(.9,1)">SOLV</text>
<text class="lab" transform="translate(1026.7,758.4) scale(.9,1)">RARE</text>
<text class="lab" transform="translate(1034.4,777.4) scale(.9,1)">DEGO</text>
<text class="lab" transform="translate(1045.0,782.3) scale(.9,1)">SIREN</text>
<text class="lab" transform="translate(1056.9,781.3) scale(.9,1)">WAI</text>
<text class="lab" transform="translate(1111.5,763.4) scale(.9,1)">HYPER</text>
<text class="lab" transform="translate(1092.8,783.7) scale(.9,1)">PARTI</text>
<text class="lab" transform="translate(1099.5,783.0) scale(.9,1)">GRIFFAIN</text>
<text class="lab" transform="translate(1119.5,794.3) scale(.9,1)">FORTH</text>
<text class="lab" transform="translate(1113.6,808.1) scale(.9,1)">ALPACA</text>
<text class="lab" transform="translate(1170.1,757.4) scale(.9,1)">MUBARAK</text>
<text class="lab" transform="translate(1198.2,758.0) scale(.9,1)">NKN</text>
<text class="lab" transform="translate(1177.9,790.8) scale(.9,1)">JELLYJELLY</text>
<text class="lab" transform="translate(1220.3,781.6) scale(.9,1)">SEND</text>
<text class="lab" transform="translate(1230.5,612.2) scale(.9,1)">ALPHA</text>
<text class="lab" transform="translate(1260.8,626.7) scale(.9,1)">GHST</text>
<text class="lab" transform="translate(1343.4,604.2) scale(.9,1)">COS</text>
<text class="lab" transform="translate(1434.4,625.3) scale(.9,1)">VELODROME</text>
<text class="lab" transform="translate(1412.2,647.8) scale(.9,1)">LUNA2</text>
<text class="lab" transform="translate(1357.5,657.9) scale(.9,1)">TOKEN</text>
<text class="lab" transform="translate(1239.0,649.4) scale(.9,1)">CHILLGUY</text>
<text class="lab" transform="translate(1254.9,671.6) scale(.9,1)">CATI</text>
<text class="lab" transform="translate(1426.4,681.2) scale(.9,1)">RONIN</text>
<text class="lab" transform="translate(1363.7,686.8) scale(.9,1)">CHESS</text>
<text class="lab" transform="translate(1361.3,698.4) scale(.9,1)">FIO</text>
<text class="lab" transform="translate(1258.7,700.0) scale(.9,1)">MLN</text>
<text class="lab" transform="translate(1314.9,700.7) scale(.9,1)">EPT</text>
<text class="lab" transform="translate(1340.9,708.2) scale(.9,1)">QUICK</text>
<text class="lab" transform="translate(1400.0,703.3) scale(.9,1)">BEAMX</text>
<text class="lab" transform="translate(1438.2,719.2) scale(.9,1)">XEC</text>
<text class="lab" transform="translate(1279.1,711.7) scale(.9,1)">MYRO</text>
<text class="lab" transform="translate(1300.8,715.2) scale(.9,1)">HIPPO</text>
<text class="lab" transform="translate(1283.3,725.1) scale(.9,1)">BMT</text>
<text class="lab" transform="translate(1339.2,721.5) scale(.9,1)">PEAQ</text>
<text class="lab" transform="translate(1371.1,730.0) scale(.9,1)">KOMA</text>
<text class="lab" transform="translate(1350.1,725.8) scale(.9,1)">PORT3</text>
<text class="lab" transform="translate(1391.5,737.7) scale(.9,1)">1000000MOG</text>
<text class="lab" transform="translate(1422.5,744.7) scale(.9,1)">RAYSOL</text>
<text class="lab" transform="translate(1347.2,741.2) scale(.9,1)">PIPPIN</text>
<text class="lab" transform="translate(1307.2,748.7) scale(.9,1)">PUMP</text>
<text class="lab" transform="translate(1287.2,742.6) scale(.9,1)">MAVIA</text>
<text class="lab" transform="translate(1272.7,734.9) scale(.9,1)">MILK</text>
<text class="lab" transform="translate(1236.9,736.3) scale(.9,1)">LOKA</text>
<text class="lab" transform="translate(1250.2,737.7) scale(.9,1)">WEMIX</text>
<text class="lab" transform="translate(1242.5,756.0) scale(.9,1)">KERNEL</text>
<text class="lab" transform="translate(1234.5,781.3) scale(.9,1)">MEMEFI</text>
<text class="lab" transform="translate(1309.3,765.5) scale(.9,1)">REI</text>
<text class="lab" transform="translate(1325.4,758.4) scale(.9,1)">FIS</text>
<text class="lab" transform="translate(1329.7,776.3) scale(.9,1)">ROT</text>
<text class="lab" transform="translate(1323.3,794.6) scale(.9,1)">FHE</text>
<text class="lab" transform="translate(1345.1,753.5) scale(.9,1)">VOXEL</text>
<text class="lab" transform="translate(1351.5,760.5) scale(.9,1)">FLM</text>
<text class="lab" transform="translate(1365.9,774.9) scale(.9,1)">BANK</text>
<text class="lab" transform="translate(1377.5,750.0) scale(.9,1)">BR</text>
<text class="lab" transform="translate(1406.3,763.4) scale(.9,1)">BTCDOM</text>
<text class="lab" transform="translate(1402.1,754.2) scale(.9,1)">COLLAT14</text>
<text class="lab" transform="translate(1404.2,788.4) scale(.9,1)">BROCCOLIF3B</text>
</g>
<text class="foot1" x="88" y="926" textLength="86" lengthAdjust="spacingAndGlyphs">alphractal.com</text>
<text class="foot2" x="55" y="942.5" textLength="150" lengthAdjust="spacingAndGlyphs">Update: 2025-04-26 17:41:48 (UTC)</text>
<text class="foot3" x="1363" y="941" textLength="162" lengthAdjust="spacingAndGlyphs">© Alphractal All rights reserved</text>
</svg></body></html>
